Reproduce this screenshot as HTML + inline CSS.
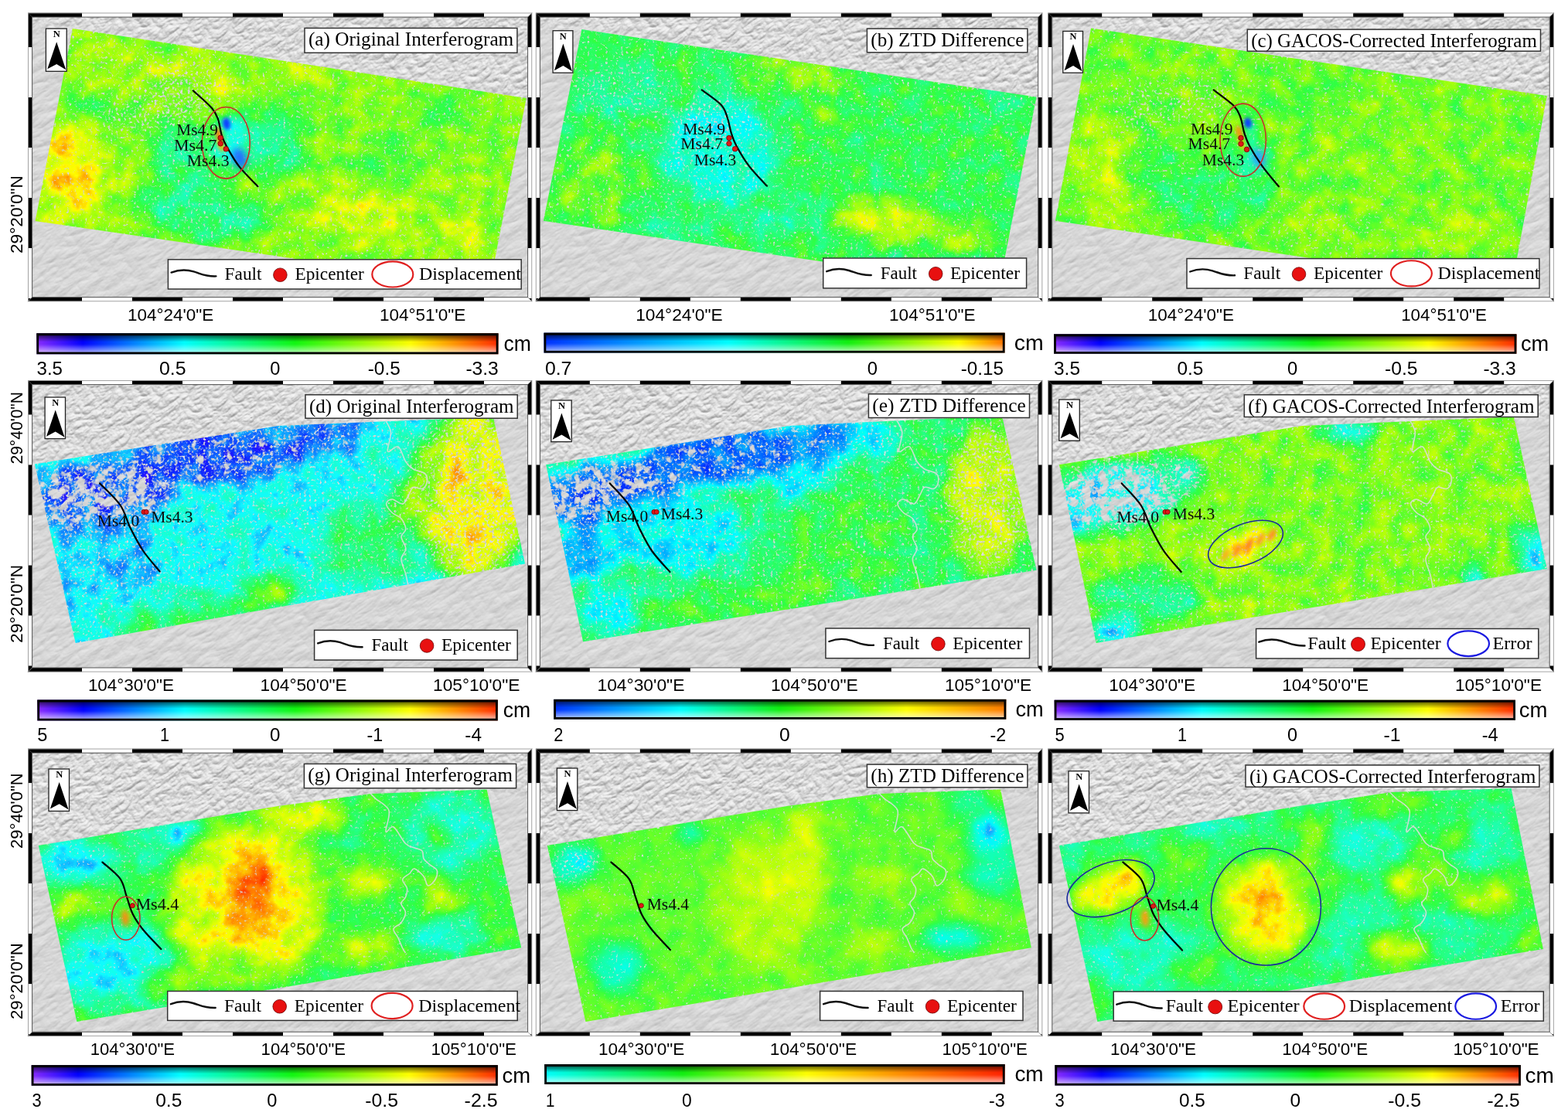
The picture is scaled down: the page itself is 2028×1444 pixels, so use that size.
<!DOCTYPE html>
<html><head><meta charset="utf-8"><title>InSAR interferograms</title><style>html,body{margin:0;padding:0;background:#fff;overflow:hidden;}svg{display:block;}</style></head><body>
<svg width="2028" height="1444" viewBox="0 0 2028 1444"><defs><filter id="hs" x="0" y="0" width="100%" height="100%" color-interpolation-filters="sRGB"><feTurbulence type="turbulence" baseFrequency="0.025 0.07" numOctaves="5" seed="3" result="n"/><feColorMatrix in="n" type="matrix" values="0 0 0 0 0 0 0 0 0 0 0 0 0 0 0 1 0 0 0 0" result="h"/><feDiffuseLighting in="h" surfaceScale="1.3" diffuseConstant="1" lighting-color="#ffffff" result="l"><feDistantLight azimuth="315" elevation="50"/></feDiffuseLighting><feComponentTransfer in="l"><feFuncR type="linear" slope="0.42" intercept="0.52"/><feFuncG type="linear" slope="0.42" intercept="0.52"/><feFuncB type="linear" slope="0.42" intercept="0.52"/></feComponentTransfer></filter><filter id="hsm" x="0" y="0" width="100%" height="100%" color-interpolation-filters="sRGB"><feTurbulence type="turbulence" baseFrequency="0.06 0.1" numOctaves="4" seed="5" result="n"/><feColorMatrix in="n" type="matrix" values="0 0 0 0 0 0 0 0 0 0 0 0 0 0 0 1 0 0 0 0" result="h"/><feDiffuseLighting in="h" surfaceScale="2.2" diffuseConstant="1" lighting-color="#ffffff" result="l"><feDistantLight azimuth="315" elevation="50"/></feDiffuseLighting><feComponentTransfer in="l"><feFuncR type="linear" slope="0.5" intercept="0.48"/><feFuncG type="linear" slope="0.5" intercept="0.48"/><feFuncB type="linear" slope="0.5" intercept="0.48"/></feComponentTransfer></filter><filter id="mblur" x="-20%" y="-20%" width="140%" height="140%"><feGaussianBlur stdDeviation="12"/></filter><linearGradient id="cbshade" x1="0" y1="0" x2="0" y2="1"><stop offset="0" stop-color="#000" stop-opacity="0.8"/><stop offset="0.2" stop-color="#000" stop-opacity="0.4"/><stop offset="0.42" stop-color="#000" stop-opacity="0"/><stop offset="0.55" stop-color="#fff" stop-opacity="0.05"/><stop offset="0.8" stop-color="#fff" stop-opacity="0.45"/><stop offset="1" stop-color="#fff" stop-opacity="0.8"/></linearGradient><clipPath id="fc_a_T"><polygon points="36,16.5 688.2,16.5 682.6,22.1 41.6,22.1"/></clipPath>
<clipPath id="fc_a_B"><polygon points="36,390.2 688.2,390.2 682.6,384.6 41.6,384.6"/></clipPath>
<clipPath id="fc_a_L"><polygon points="36,16.5 41.6,22.1 41.6,384.6 36,390.2"/></clipPath>
<clipPath id="fc_a_R"><polygon points="688.2,16.5 682.6,22.1 682.6,384.6 688.2,390.2"/></clipPath>
<clipPath id="mc_a"><rect x="41.6" y="22.1" width="641" height="362.5"/></clipPath>
<mask id="mk_a" maskUnits="userSpaceOnUse" x="1.6" y="-17.9" width="721" height="442.5"><polygon points="11.6,-7.9 712.6,-7.9 712.6,136.79 680.7,131.9 93.9,41.9 11.6,29.28" fill="#fff" filter="url(#mblur)"/></mask>
<filter id="df_a" x="-5%" y="-5%" width="110%" height="110%" color-interpolation-filters="sRGB"><feGaussianBlur in="SourceGraphic" stdDeviation="11" result="v"/><feTurbulence type="fractalNoise" baseFrequency="0.04" numOctaves="4" seed="11" result="t0"/><feColorMatrix in="t0" type="matrix" values="1 0 0 0 0 1 0 0 0 0 1 0 0 0 0 0 0 0 0 1" result="t"/><feComposite in="v" in2="t" operator="arithmetic" k1="0" k2="1" k3="0.28" k4="-0.14" result="vn"/><feColorMatrix in="vn" type="matrix" values="1 0 0 0 0 1 0 0 0 0 1 0 0 0 0 0 0 0 0 1" result="g"/><feComponentTransfer in="g" result="col"><feFuncR type="table" tableValues="0.541 0.399 0.256 0.114 0.063 0.063 0.063 0.063 0.063 0.063 0.063 0.076 0.090 0.105 0.120 0.136 0.154 0.172 0.196 0.294 0.392 0.490 0.590 0.694 0.799 0.904 1.000 1.000 1.000 1.000 1.000 1.000 1.000"/><feFuncG type="table" tableValues="0.169 0.137 0.106 0.074 0.152 0.290 0.429 0.568 0.707 0.846 0.984 1.000 1.000 1.000 1.000 1.000 1.000 1.000 1.000 1.000 1.000 1.000 1.000 1.000 1.000 1.000 0.989 0.852 0.714 0.577 0.439 0.302 0.165"/><feFuncB type="table" tableValues="1.000 1.000 1.000 1.000 1.000 1.000 1.000 1.000 1.000 1.000 1.000 0.923 0.836 0.749 0.662 0.563 0.456 0.349 0.247 0.198 0.149 0.100 0.059 0.044 0.029 0.014 0.000 0.000 0.000 0.000 0.000 0.000 0.000"/></feComponentTransfer><feTurbulence type="fractalNoise" baseFrequency="0.3" numOctaves="2" seed="111" result="s0"/><feColorMatrix in="s0" type="matrix" values="0 0 0 0 1 0 0 0 0 1 0 0 0 0 1 1 0 0 0 0" result="sn"/><feColorMatrix in="v" type="matrix" values="0 0 0 0 1 0 0 0 0 1 0 0 0 0 1 0 1 0 0 0" result="dn"/><feComposite in="sn" in2="dn" operator="arithmetic" k1="0" k2="1" k3="0.42" k4="-0.71" result="sd"/><feComponentTransfer in="sd" result="spk"><feFuncR type="linear" slope="0" intercept="0.88"/><feFuncG type="linear" slope="0" intercept="0.88"/><feFuncB type="linear" slope="0" intercept="0.88"/><feFuncA type="linear" slope="5" intercept="0"/></feComponentTransfer><feTurbulence type="fractalNoise" baseFrequency="0.09" numOctaves="3" seed="211" result="h0"/><feColorMatrix in="h0" type="matrix" values="0 0 0 0 1 0 0 0 0 1 0 0 0 0 1 1 0 0 0 0" result="hn"/><feColorMatrix in="v" type="matrix" values="0 0 0 0 1 0 0 0 0 1 0 0 0 0 1 0 0 1 0 0" result="hd"/><feComposite in="hn" in2="hd" operator="arithmetic" k1="0" k2="1" k3="0.5" k4="-0.8" result="hs2"/><feComponentTransfer in="hs2" result="hol"><feFuncA type="linear" slope="6" intercept="0"/></feComponentTransfer><feComposite in="spk" in2="hol" operator="over" result="allh"/><feComposite in="col" in2="allh" operator="out"/></filter>
<clipPath id="pc_a"><polygon points="93.9,36.9 680.7,126.9 633,371.3 45.6,286.1"/></clipPath>
<filter id="sb_2" x="-100%" y="-100%" width="300%" height="300%"><feGaussianBlur stdDeviation="2"/></filter>
<filter id="sb_4" x="-100%" y="-100%" width="300%" height="300%"><feGaussianBlur stdDeviation="4"/></filter>
<filter id="sb_2_5" x="-100%" y="-100%" width="300%" height="300%"><feGaussianBlur stdDeviation="2.5"/></filter>
<linearGradient id="cbg_a" x1="0" y1="0" x2="1" y2="0"><stop offset="0" stop-color="#8a2bff"/><stop offset="0.1" stop-color="#0000ff"/><stop offset="0.32" stop-color="#00ffff"/><stop offset="0.56" stop-color="#10f810"/><stop offset="0.81" stop-color="#ffff00"/><stop offset="1" stop-color="#ff2a00"/></linearGradient>
<clipPath id="fc_b_T"><polygon points="692.8,16.5 1348.3,16.5 1342.7,22.1 698.4,22.1"/></clipPath>
<clipPath id="fc_b_B"><polygon points="692.8,390.2 1348.3,390.2 1342.7,384.6 698.4,384.6"/></clipPath>
<clipPath id="fc_b_L"><polygon points="692.8,16.5 698.4,22.1 698.4,384.6 692.8,390.2"/></clipPath>
<clipPath id="fc_b_R"><polygon points="1348.3,16.5 1342.7,22.1 1342.7,384.6 1348.3,390.2"/></clipPath>
<clipPath id="mc_b"><rect x="698.4" y="22.1" width="644.3" height="362.5"/></clipPath>
<mask id="mk_b" maskUnits="userSpaceOnUse" x="658.4" y="-17.9" width="724.3" height="442.5"><polygon points="668.4,-7.9 1372.7,-7.9 1372.7,135.39 1340.5,130.6 752.4,43.1 668.4,30.6" fill="#fff" filter="url(#mblur)"/></mask>
<filter id="df_b" x="-5%" y="-5%" width="110%" height="110%" color-interpolation-filters="sRGB"><feGaussianBlur in="SourceGraphic" stdDeviation="11" result="v"/><feTurbulence type="fractalNoise" baseFrequency="0.04" numOctaves="4" seed="23" result="t0"/><feColorMatrix in="t0" type="matrix" values="1 0 0 0 0 1 0 0 0 0 1 0 0 0 0 0 0 0 0 1" result="t"/><feComposite in="v" in2="t" operator="arithmetic" k1="0" k2="1" k3="0.28" k4="-0.14" result="vn"/><feColorMatrix in="vn" type="matrix" values="1 0 0 0 0 1 0 0 0 0 1 0 0 0 0 0 0 0 0 1" result="g"/><feComponentTransfer in="g" result="col"><feFuncR type="table" tableValues="0.000 0.000 0.000 0.000 0.000 0.000 0.000 0.000 0.000 0.000 0.000 0.000 0.000 0.006 0.036 0.066 0.097 0.126 0.141 0.156 0.171 0.186 0.289 0.403 0.518 0.631 0.728 0.825 0.922 1.000 1.000 1.000 1.000"/><feFuncG type="table" tableValues="0.188 0.252 0.315 0.378 0.442 0.505 0.569 0.632 0.696 0.759 0.822 0.886 0.949 1.000 1.000 1.000 1.000 1.000 1.000 1.000 1.000 1.000 1.000 1.000 1.000 1.000 1.000 1.000 1.000 0.965 0.790 0.614 0.439"/><feFuncB type="table" tableValues="1.000 1.000 1.000 1.000 1.000 1.000 1.000 1.000 1.000 1.000 1.000 1.000 1.000 0.982 0.893 0.803 0.713 0.624 0.533 0.443 0.352 0.262 0.208 0.159 0.110 0.062 0.046 0.029 0.013 0.000 0.000 0.000 0.000"/></feComponentTransfer><feTurbulence type="fractalNoise" baseFrequency="0.3" numOctaves="2" seed="123" result="s0"/><feColorMatrix in="s0" type="matrix" values="0 0 0 0 1 0 0 0 0 1 0 0 0 0 1 1 0 0 0 0" result="sn"/><feColorMatrix in="v" type="matrix" values="0 0 0 0 1 0 0 0 0 1 0 0 0 0 1 0 1 0 0 0" result="dn"/><feComposite in="sn" in2="dn" operator="arithmetic" k1="0" k2="1" k3="0.42" k4="-0.71" result="sd"/><feComponentTransfer in="sd" result="spk"><feFuncR type="linear" slope="0" intercept="0.88"/><feFuncG type="linear" slope="0" intercept="0.88"/><feFuncB type="linear" slope="0" intercept="0.88"/><feFuncA type="linear" slope="5" intercept="0"/></feComponentTransfer><feTurbulence type="fractalNoise" baseFrequency="0.09" numOctaves="3" seed="223" result="h0"/><feColorMatrix in="h0" type="matrix" values="0 0 0 0 1 0 0 0 0 1 0 0 0 0 1 1 0 0 0 0" result="hn"/><feColorMatrix in="v" type="matrix" values="0 0 0 0 1 0 0 0 0 1 0 0 0 0 1 0 0 1 0 0" result="hd"/><feComposite in="hn" in2="hd" operator="arithmetic" k1="0" k2="1" k3="0.5" k4="-0.8" result="hs2"/><feComponentTransfer in="hs2" result="hol"><feFuncA type="linear" slope="6" intercept="0"/></feComponentTransfer><feComposite in="spk" in2="hol" operator="over" result="allh"/><feComposite in="col" in2="allh" operator="out"/></filter>
<clipPath id="pc_b"><polygon points="752.4,38.1 1340.5,125.6 1292,372 702.9,285.8"/></clipPath>
<linearGradient id="cbg_b" x1="0" y1="0" x2="1" y2="0"><stop offset="0" stop-color="#0030ff"/><stop offset="0.4" stop-color="#00ffff"/><stop offset="0.66" stop-color="#10f010"/><stop offset="0.9" stop-color="#ffff00"/><stop offset="1" stop-color="#ff7000"/></linearGradient>
<clipPath id="fc_c_T"><polygon points="1355.2,16.5 2009.8,16.5 2004.2,22.1 1360.8,22.1"/></clipPath>
<clipPath id="fc_c_B"><polygon points="1355.2,390.2 2009.8,390.2 2004.2,384.6 1360.8,384.6"/></clipPath>
<clipPath id="fc_c_L"><polygon points="1355.2,16.5 1360.8,22.1 1360.8,384.6 1355.2,390.2"/></clipPath>
<clipPath id="fc_c_R"><polygon points="2009.8,16.5 2004.2,22.1 2004.2,384.6 2009.8,390.2"/></clipPath>
<clipPath id="mc_c"><rect x="1360.8" y="22.1" width="643.4" height="362.5"/></clipPath>
<mask id="mk_c" maskUnits="userSpaceOnUse" x="1320.8" y="-17.9" width="723.4" height="442.5"><polygon points="1330.8,-7.9 2034.2,-7.9 2034.2,133.96 2000.8,129 1411.1,41.4 1330.8,29.47" fill="#fff" filter="url(#mblur)"/></mask>
<filter id="df_c" x="-5%" y="-5%" width="110%" height="110%" color-interpolation-filters="sRGB"><feGaussianBlur in="SourceGraphic" stdDeviation="11" result="v"/><feTurbulence type="fractalNoise" baseFrequency="0.04" numOctaves="4" seed="37" result="t0"/><feColorMatrix in="t0" type="matrix" values="1 0 0 0 0 1 0 0 0 0 1 0 0 0 0 0 0 0 0 1" result="t"/><feComposite in="v" in2="t" operator="arithmetic" k1="0" k2="1" k3="0.28" k4="-0.14" result="vn"/><feColorMatrix in="vn" type="matrix" values="1 0 0 0 0 1 0 0 0 0 1 0 0 0 0 0 0 0 0 1" result="g"/><feComponentTransfer in="g" result="col"><feFuncR type="table" tableValues="0.541 0.399 0.256 0.114 0.063 0.063 0.063 0.063 0.063 0.063 0.063 0.076 0.090 0.105 0.120 0.136 0.154 0.172 0.196 0.294 0.392 0.490 0.590 0.694 0.799 0.904 1.000 1.000 1.000 1.000 1.000 1.000 1.000"/><feFuncG type="table" tableValues="0.169 0.137 0.106 0.074 0.152 0.290 0.429 0.568 0.707 0.846 0.984 1.000 1.000 1.000 1.000 1.000 1.000 1.000 1.000 1.000 1.000 1.000 1.000 1.000 1.000 1.000 0.989 0.852 0.714 0.577 0.439 0.302 0.165"/><feFuncB type="table" tableValues="1.000 1.000 1.000 1.000 1.000 1.000 1.000 1.000 1.000 1.000 1.000 0.923 0.836 0.749 0.662 0.563 0.456 0.349 0.247 0.198 0.149 0.100 0.059 0.044 0.029 0.014 0.000 0.000 0.000 0.000 0.000 0.000 0.000"/></feComponentTransfer><feTurbulence type="fractalNoise" baseFrequency="0.3" numOctaves="2" seed="137" result="s0"/><feColorMatrix in="s0" type="matrix" values="0 0 0 0 1 0 0 0 0 1 0 0 0 0 1 1 0 0 0 0" result="sn"/><feColorMatrix in="v" type="matrix" values="0 0 0 0 1 0 0 0 0 1 0 0 0 0 1 0 1 0 0 0" result="dn"/><feComposite in="sn" in2="dn" operator="arithmetic" k1="0" k2="1" k3="0.42" k4="-0.71" result="sd"/><feComponentTransfer in="sd" result="spk"><feFuncR type="linear" slope="0" intercept="0.88"/><feFuncG type="linear" slope="0" intercept="0.88"/><feFuncB type="linear" slope="0" intercept="0.88"/><feFuncA type="linear" slope="5" intercept="0"/></feComponentTransfer><feTurbulence type="fractalNoise" baseFrequency="0.09" numOctaves="3" seed="237" result="h0"/><feColorMatrix in="h0" type="matrix" values="0 0 0 0 1 0 0 0 0 1 0 0 0 0 1 1 0 0 0 0" result="hn"/><feColorMatrix in="v" type="matrix" values="0 0 0 0 1 0 0 0 0 1 0 0 0 0 1 0 0 1 0 0" result="hd"/><feComposite in="hn" in2="hd" operator="arithmetic" k1="0" k2="1" k3="0.5" k4="-0.8" result="hs2"/><feComponentTransfer in="hs2" result="hol"><feFuncA type="linear" slope="6" intercept="0"/></feComponentTransfer><feComposite in="spk" in2="hol" operator="over" result="allh"/><feComposite in="col" in2="allh" operator="out"/></filter>
<clipPath id="pc_c"><polygon points="1411.1,36.4 2000.8,124 1955,372 1364.9,285.8"/></clipPath>
<linearGradient id="cbg_c" x1="0" y1="0" x2="1" y2="0"><stop offset="0" stop-color="#8a2bff"/><stop offset="0.1" stop-color="#0000ff"/><stop offset="0.32" stop-color="#00ffff"/><stop offset="0.56" stop-color="#10f810"/><stop offset="0.81" stop-color="#ffff00"/><stop offset="1" stop-color="#ff2a00"/></linearGradient>
<clipPath id="fc_d_T"><polygon points="36,492 688.2,492 682.6,497.6 41.6,497.6"/></clipPath>
<clipPath id="fc_d_B"><polygon points="36,869.6 688.2,869.6 682.6,864 41.6,864"/></clipPath>
<clipPath id="fc_d_L"><polygon points="36,492 41.6,497.6 41.6,864 36,869.6"/></clipPath>
<clipPath id="fc_d_R"><polygon points="688.2,492 682.6,497.6 682.6,864 688.2,869.6"/></clipPath>
<clipPath id="mc_d"><rect x="41.6" y="497.6" width="641" height="366.4"/></clipPath>
<mask id="mk_d" maskUnits="userSpaceOnUse" x="1.6" y="457.6" width="721" height="446.4"><polygon points="11.6,467.6 712.6,467.6 712.6,541.41 637.9,544.5 360,556 44.9,605.6 11.6,610.84" fill="#fff" filter="url(#mblur)"/></mask>
<filter id="df_d" x="-5%" y="-5%" width="110%" height="110%" color-interpolation-filters="sRGB"><feGaussianBlur in="SourceGraphic" stdDeviation="11" result="v"/><feTurbulence type="fractalNoise" baseFrequency="0.04" numOctaves="4" seed="41" result="t0"/><feColorMatrix in="t0" type="matrix" values="1 0 0 0 0 1 0 0 0 0 1 0 0 0 0 0 0 0 0 1" result="t"/><feComposite in="v" in2="t" operator="arithmetic" k1="0" k2="1" k3="0.28" k4="-0.14" result="vn"/><feColorMatrix in="vn" type="matrix" values="1 0 0 0 0 1 0 0 0 0 1 0 0 0 0 0 0 0 0 1" result="g"/><feComponentTransfer in="g" result="col"><feFuncR type="table" tableValues="0.541 0.399 0.256 0.114 0.063 0.063 0.063 0.063 0.063 0.063 0.063 0.076 0.090 0.105 0.120 0.136 0.154 0.172 0.196 0.294 0.392 0.490 0.590 0.694 0.799 0.904 1.000 1.000 1.000 1.000 1.000 1.000 1.000"/><feFuncG type="table" tableValues="0.169 0.137 0.106 0.074 0.152 0.290 0.429 0.568 0.707 0.846 0.984 1.000 1.000 1.000 1.000 1.000 1.000 1.000 1.000 1.000 1.000 1.000 1.000 1.000 1.000 1.000 0.989 0.852 0.714 0.577 0.439 0.302 0.165"/><feFuncB type="table" tableValues="1.000 1.000 1.000 1.000 1.000 1.000 1.000 1.000 1.000 1.000 1.000 0.923 0.836 0.749 0.662 0.563 0.456 0.349 0.247 0.198 0.149 0.100 0.059 0.044 0.029 0.014 0.000 0.000 0.000 0.000 0.000 0.000 0.000"/></feComponentTransfer><feTurbulence type="fractalNoise" baseFrequency="0.3" numOctaves="2" seed="141" result="s0"/><feColorMatrix in="s0" type="matrix" values="0 0 0 0 1 0 0 0 0 1 0 0 0 0 1 1 0 0 0 0" result="sn"/><feColorMatrix in="v" type="matrix" values="0 0 0 0 1 0 0 0 0 1 0 0 0 0 1 0 1 0 0 0" result="dn"/><feComposite in="sn" in2="dn" operator="arithmetic" k1="0" k2="1" k3="0.42" k4="-0.71" result="sd"/><feComponentTransfer in="sd" result="spk"><feFuncR type="linear" slope="0" intercept="0.88"/><feFuncG type="linear" slope="0" intercept="0.88"/><feFuncB type="linear" slope="0" intercept="0.88"/><feFuncA type="linear" slope="5" intercept="0"/></feComponentTransfer><feTurbulence type="fractalNoise" baseFrequency="0.09" numOctaves="3" seed="241" result="h0"/><feColorMatrix in="h0" type="matrix" values="0 0 0 0 1 0 0 0 0 1 0 0 0 0 1 1 0 0 0 0" result="hn"/><feColorMatrix in="v" type="matrix" values="0 0 0 0 1 0 0 0 0 1 0 0 0 0 1 0 0 1 0 0" result="hd"/><feComposite in="hn" in2="hd" operator="arithmetic" k1="0" k2="1" k3="0.5" k4="-0.8" result="hs2"/><feComponentTransfer in="hs2" result="hol"><feFuncA type="linear" slope="6" intercept="0"/></feComponentTransfer><feComposite in="spk" in2="hol" operator="over" result="allh"/><feComposite in="col" in2="allh" operator="out"/></filter>
<clipPath id="pc_d"><polygon points="44.9,600.6 360,551 637.9,539.5 679.1,729.5 97.7,831.9"/></clipPath>
<linearGradient id="cbg_d" x1="0" y1="0" x2="1" y2="0"><stop offset="0" stop-color="#8a2bff"/><stop offset="0.1" stop-color="#0000ff"/><stop offset="0.32" stop-color="#00ffff"/><stop offset="0.56" stop-color="#10f810"/><stop offset="0.81" stop-color="#ffff00"/><stop offset="1" stop-color="#ff2a00"/></linearGradient>
<clipPath id="fc_e_T"><polygon points="692.8,492 1348.3,492 1342.7,497.6 698.4,497.6"/></clipPath>
<clipPath id="fc_e_B"><polygon points="692.8,869.6 1348.3,869.6 1342.7,864 698.4,864"/></clipPath>
<clipPath id="fc_e_L"><polygon points="692.8,492 698.4,497.6 698.4,864 692.8,869.6"/></clipPath>
<clipPath id="fc_e_R"><polygon points="1348.3,492 1342.7,497.6 1342.7,864 1348.3,869.6"/></clipPath>
<clipPath id="mc_e"><rect x="698.4" y="497.6" width="644.3" height="366.4"/></clipPath>
<mask id="mk_e" maskUnits="userSpaceOnUse" x="658.4" y="457.6" width="724.3" height="446.4"><polygon points="668.4,467.6 1372.7,467.6 1372.7,539.24 1295.9,542.9 1021,556 706.2,606.3 668.4,612.34" fill="#fff" filter="url(#mblur)"/></mask>
<filter id="df_e" x="-5%" y="-5%" width="110%" height="110%" color-interpolation-filters="sRGB"><feGaussianBlur in="SourceGraphic" stdDeviation="11" result="v"/><feTurbulence type="fractalNoise" baseFrequency="0.04" numOctaves="4" seed="53" result="t0"/><feColorMatrix in="t0" type="matrix" values="1 0 0 0 0 1 0 0 0 0 1 0 0 0 0 0 0 0 0 1" result="t"/><feComposite in="v" in2="t" operator="arithmetic" k1="0" k2="1" k3="0.28" k4="-0.14" result="vn"/><feColorMatrix in="vn" type="matrix" values="1 0 0 0 0 1 0 0 0 0 1 0 0 0 0 0 0 0 0 1" result="g"/><feComponentTransfer in="g" result="col"><feFuncR type="table" tableValues="0.000 0.000 0.000 0.000 0.000 0.000 0.000 0.000 0.000 0.001 0.037 0.073 0.108 0.135 0.153 0.170 0.188 0.286 0.384 0.482 0.580 0.671 0.754 0.837 0.920 1.000 1.000 1.000 1.000 1.000 1.000 1.000 1.000"/><feFuncG type="table" tableValues="0.188 0.279 0.369 0.460 0.551 0.641 0.732 0.822 0.913 1.000 1.000 1.000 1.000 1.000 1.000 1.000 1.000 1.000 1.000 1.000 1.000 1.000 1.000 1.000 1.000 0.997 0.923 0.849 0.775 0.701 0.627 0.553 0.478"/><feFuncB type="table" tableValues="1.000 1.000 1.000 1.000 1.000 1.000 1.000 1.000 1.000 0.996 0.890 0.784 0.678 0.572 0.465 0.358 0.251 0.209 0.167 0.125 0.083 0.055 0.041 0.027 0.013 0.000 0.000 0.000 0.000 0.000 0.000 0.000 0.000"/></feComponentTransfer><feTurbulence type="fractalNoise" baseFrequency="0.3" numOctaves="2" seed="153" result="s0"/><feColorMatrix in="s0" type="matrix" values="0 0 0 0 1 0 0 0 0 1 0 0 0 0 1 1 0 0 0 0" result="sn"/><feColorMatrix in="v" type="matrix" values="0 0 0 0 1 0 0 0 0 1 0 0 0 0 1 0 1 0 0 0" result="dn"/><feComposite in="sn" in2="dn" operator="arithmetic" k1="0" k2="1" k3="0.42" k4="-0.71" result="sd"/><feComponentTransfer in="sd" result="spk"><feFuncR type="linear" slope="0" intercept="0.88"/><feFuncG type="linear" slope="0" intercept="0.88"/><feFuncB type="linear" slope="0" intercept="0.88"/><feFuncA type="linear" slope="5" intercept="0"/></feComponentTransfer><feTurbulence type="fractalNoise" baseFrequency="0.09" numOctaves="3" seed="253" result="h0"/><feColorMatrix in="h0" type="matrix" values="0 0 0 0 1 0 0 0 0 1 0 0 0 0 1 1 0 0 0 0" result="hn"/><feColorMatrix in="v" type="matrix" values="0 0 0 0 1 0 0 0 0 1 0 0 0 0 1 0 0 1 0 0" result="hd"/><feComposite in="hn" in2="hd" operator="arithmetic" k1="0" k2="1" k3="0.5" k4="-0.8" result="hs2"/><feComponentTransfer in="hs2" result="hol"><feFuncA type="linear" slope="6" intercept="0"/></feComponentTransfer><feComposite in="spk" in2="hol" operator="over" result="allh"/><feComposite in="col" in2="allh" operator="out"/></filter>
<clipPath id="pc_e"><polygon points="706.2,601.3 1021,551 1295.9,537.9 1340.5,737.7 754.1,830.2"/></clipPath>
<linearGradient id="cbg_e" x1="0" y1="0" x2="1" y2="0"><stop offset="0" stop-color="#0030ff"/><stop offset="0.28" stop-color="#00ffff"/><stop offset="0.5" stop-color="#10f010"/><stop offset="0.78" stop-color="#ffff00"/><stop offset="1" stop-color="#ff7a00"/></linearGradient>
<clipPath id="fc_f_T"><polygon points="1355.2,492 2009.8,492 2004.2,497.6 1360.8,497.6"/></clipPath>
<clipPath id="fc_f_B"><polygon points="1355.2,869.6 2009.8,869.6 2004.2,864 1360.8,864"/></clipPath>
<clipPath id="fc_f_L"><polygon points="1355.2,492 1360.8,497.6 1360.8,864 1355.2,869.6"/></clipPath>
<clipPath id="fc_f_R"><polygon points="2009.8,492 2004.2,497.6 2004.2,864 2009.8,869.6"/></clipPath>
<clipPath id="mc_f"><rect x="1360.8" y="497.6" width="643.4" height="366.4"/></clipPath>
<mask id="mk_f" maskUnits="userSpaceOnUse" x="1320.8" y="457.6" width="723.4" height="446.4"><polygon points="1330.8,467.6 2034.2,467.6 2034.2,541.3 1957.9,544.5 1684,556 1369.8,606.3 1330.8,612.54" fill="#fff" filter="url(#mblur)"/></mask>
<filter id="df_f" x="-5%" y="-5%" width="110%" height="110%" color-interpolation-filters="sRGB"><feGaussianBlur in="SourceGraphic" stdDeviation="11" result="v"/><feTurbulence type="fractalNoise" baseFrequency="0.04" numOctaves="4" seed="67" result="t0"/><feColorMatrix in="t0" type="matrix" values="1 0 0 0 0 1 0 0 0 0 1 0 0 0 0 0 0 0 0 1" result="t"/><feComposite in="v" in2="t" operator="arithmetic" k1="0" k2="1" k3="0.28" k4="-0.14" result="vn"/><feColorMatrix in="vn" type="matrix" values="1 0 0 0 0 1 0 0 0 0 1 0 0 0 0 0 0 0 0 1" result="g"/><feComponentTransfer in="g" result="col"><feFuncR type="table" tableValues="0.541 0.399 0.256 0.114 0.063 0.063 0.063 0.063 0.063 0.063 0.063 0.076 0.090 0.105 0.120 0.136 0.154 0.172 0.196 0.294 0.392 0.490 0.590 0.694 0.799 0.904 1.000 1.000 1.000 1.000 1.000 1.000 1.000"/><feFuncG type="table" tableValues="0.169 0.137 0.106 0.074 0.152 0.290 0.429 0.568 0.707 0.846 0.984 1.000 1.000 1.000 1.000 1.000 1.000 1.000 1.000 1.000 1.000 1.000 1.000 1.000 1.000 1.000 0.989 0.852 0.714 0.577 0.439 0.302 0.165"/><feFuncB type="table" tableValues="1.000 1.000 1.000 1.000 1.000 1.000 1.000 1.000 1.000 1.000 1.000 0.923 0.836 0.749 0.662 0.563 0.456 0.349 0.247 0.198 0.149 0.100 0.059 0.044 0.029 0.014 0.000 0.000 0.000 0.000 0.000 0.000 0.000"/></feComponentTransfer><feTurbulence type="fractalNoise" baseFrequency="0.3" numOctaves="2" seed="167" result="s0"/><feColorMatrix in="s0" type="matrix" values="0 0 0 0 1 0 0 0 0 1 0 0 0 0 1 1 0 0 0 0" result="sn"/><feColorMatrix in="v" type="matrix" values="0 0 0 0 1 0 0 0 0 1 0 0 0 0 1 0 1 0 0 0" result="dn"/><feComposite in="sn" in2="dn" operator="arithmetic" k1="0" k2="1" k3="0.42" k4="-0.71" result="sd"/><feComponentTransfer in="sd" result="spk"><feFuncR type="linear" slope="0" intercept="0.88"/><feFuncG type="linear" slope="0" intercept="0.88"/><feFuncB type="linear" slope="0" intercept="0.88"/><feFuncA type="linear" slope="5" intercept="0"/></feComponentTransfer><feTurbulence type="fractalNoise" baseFrequency="0.09" numOctaves="3" seed="267" result="h0"/><feColorMatrix in="h0" type="matrix" values="0 0 0 0 1 0 0 0 0 1 0 0 0 0 1 1 0 0 0 0" result="hn"/><feColorMatrix in="v" type="matrix" values="0 0 0 0 1 0 0 0 0 1 0 0 0 0 1 0 0 1 0 0" result="hd"/><feComposite in="hn" in2="hd" operator="arithmetic" k1="0" k2="1" k3="0.5" k4="-0.8" result="hs2"/><feComponentTransfer in="hs2" result="hol"><feFuncA type="linear" slope="6" intercept="0"/></feComponentTransfer><feComposite in="spk" in2="hol" operator="over" result="allh"/><feComposite in="col" in2="allh" operator="out"/></filter>
<clipPath id="pc_f"><polygon points="1369.8,601.3 1684,551 1957.9,539.5 2000.8,736.1 1417.7,831.9"/></clipPath>
<linearGradient id="cbg_f" x1="0" y1="0" x2="1" y2="0"><stop offset="0" stop-color="#8a2bff"/><stop offset="0.1" stop-color="#0000ff"/><stop offset="0.32" stop-color="#00ffff"/><stop offset="0.56" stop-color="#10f810"/><stop offset="0.81" stop-color="#ffff00"/><stop offset="1" stop-color="#ff2a00"/></linearGradient>
<clipPath id="fc_g_T"><polygon points="36,968.6 688.2,968.6 682.6,974.2 41.6,974.2"/></clipPath>
<clipPath id="fc_g_B"><polygon points="36,1340.8 688.2,1340.8 682.6,1335.2 41.6,1335.2"/></clipPath>
<clipPath id="fc_g_L"><polygon points="36,968.6 41.6,974.2 41.6,1335.2 36,1340.8"/></clipPath>
<clipPath id="fc_g_R"><polygon points="688.2,968.6 682.6,974.2 682.6,1335.2 688.2,1340.8"/></clipPath>
<clipPath id="mc_g"><rect x="41.6" y="974.2" width="641" height="361"/></clipPath>
<mask id="mk_g" maskUnits="userSpaceOnUse" x="1.6" y="934.2" width="721" height="441"><polygon points="11.6,944.2 712.6,944.2 712.6,1023.45 629.6,1026.5 480,1032 360,1048 49.8,1099.1 11.6,1105.39" fill="#fff" filter="url(#mblur)"/></mask>
<filter id="df_g" x="-5%" y="-5%" width="110%" height="110%" color-interpolation-filters="sRGB"><feGaussianBlur in="SourceGraphic" stdDeviation="11" result="v"/><feTurbulence type="fractalNoise" baseFrequency="0.04" numOctaves="4" seed="71" result="t0"/><feColorMatrix in="t0" type="matrix" values="1 0 0 0 0 1 0 0 0 0 1 0 0 0 0 0 0 0 0 1" result="t"/><feComposite in="v" in2="t" operator="arithmetic" k1="0" k2="1" k3="0.24" k4="-0.12" result="vn"/><feColorMatrix in="vn" type="matrix" values="1 0 0 0 0 1 0 0 0 0 1 0 0 0 0 0 0 0 0 1" result="g"/><feComponentTransfer in="g" result="col"><feFuncR type="table" tableValues="0.541 0.399 0.256 0.114 0.063 0.063 0.063 0.063 0.063 0.063 0.063 0.076 0.090 0.105 0.120 0.136 0.154 0.172 0.196 0.294 0.392 0.490 0.590 0.694 0.799 0.904 1.000 1.000 1.000 1.000 1.000 1.000 1.000"/><feFuncG type="table" tableValues="0.169 0.137 0.106 0.074 0.152 0.290 0.429 0.568 0.707 0.846 0.984 1.000 1.000 1.000 1.000 1.000 1.000 1.000 1.000 1.000 1.000 1.000 1.000 1.000 1.000 1.000 0.989 0.852 0.714 0.577 0.439 0.302 0.165"/><feFuncB type="table" tableValues="1.000 1.000 1.000 1.000 1.000 1.000 1.000 1.000 1.000 1.000 1.000 0.923 0.836 0.749 0.662 0.563 0.456 0.349 0.247 0.198 0.149 0.100 0.059 0.044 0.029 0.014 0.000 0.000 0.000 0.000 0.000 0.000 0.000"/></feComponentTransfer><feTurbulence type="fractalNoise" baseFrequency="0.3" numOctaves="2" seed="171" result="s0"/><feColorMatrix in="s0" type="matrix" values="0 0 0 0 1 0 0 0 0 1 0 0 0 0 1 1 0 0 0 0" result="sn"/><feColorMatrix in="v" type="matrix" values="0 0 0 0 1 0 0 0 0 1 0 0 0 0 1 0 1 0 0 0" result="dn"/><feComposite in="sn" in2="dn" operator="arithmetic" k1="0" k2="1" k3="0.42" k4="-0.71" result="sd"/><feComponentTransfer in="sd" result="spk"><feFuncR type="linear" slope="0" intercept="0.88"/><feFuncG type="linear" slope="0" intercept="0.88"/><feFuncB type="linear" slope="0" intercept="0.88"/><feFuncA type="linear" slope="5" intercept="0"/></feComponentTransfer><feTurbulence type="fractalNoise" baseFrequency="0.09" numOctaves="3" seed="271" result="h0"/><feColorMatrix in="h0" type="matrix" values="0 0 0 0 1 0 0 0 0 1 0 0 0 0 1 1 0 0 0 0" result="hn"/><feColorMatrix in="v" type="matrix" values="0 0 0 0 1 0 0 0 0 1 0 0 0 0 1 0 0 1 0 0" result="hd"/><feComposite in="hn" in2="hd" operator="arithmetic" k1="0" k2="1" k3="0.5" k4="-0.8" result="hs2"/><feComponentTransfer in="hs2" result="hol"><feFuncA type="linear" slope="6" intercept="0"/></feComponentTransfer><feComposite in="spk" in2="hol" operator="over" result="allh"/><feComposite in="col" in2="allh" operator="out"/></filter>
<clipPath id="pc_g"><polygon points="49.8,1094.1 360,1043 480,1027 629.6,1021.5 674.2,1226.3 99.4,1322.1"/></clipPath>
<filter id="sb_3" x="-100%" y="-100%" width="300%" height="300%"><feGaussianBlur stdDeviation="3"/></filter>
<linearGradient id="cbg_g" x1="0" y1="0" x2="1" y2="0"><stop offset="0" stop-color="#8a2bff"/><stop offset="0.1" stop-color="#0000ff"/><stop offset="0.32" stop-color="#00ffff"/><stop offset="0.56" stop-color="#10f810"/><stop offset="0.81" stop-color="#ffff00"/><stop offset="1" stop-color="#ff2a00"/></linearGradient>
<clipPath id="fc_h_T"><polygon points="692.8,968.6 1348.3,968.6 1342.7,974.2 698.4,974.2"/></clipPath>
<clipPath id="fc_h_B"><polygon points="692.8,1340.8 1348.3,1340.8 1342.7,1335.2 698.4,1335.2"/></clipPath>
<clipPath id="fc_h_L"><polygon points="692.8,968.6 698.4,974.2 698.4,1335.2 692.8,1340.8"/></clipPath>
<clipPath id="fc_h_R"><polygon points="1348.3,968.6 1342.7,974.2 1342.7,1335.2 1348.3,1340.8"/></clipPath>
<clipPath id="mc_h"><rect x="698.4" y="974.2" width="644.3" height="361"/></clipPath>
<mask id="mk_h" maskUnits="userSpaceOnUse" x="658.4" y="934.2" width="724.3" height="441"><polygon points="668.4,944.2 1372.7,944.2 1372.7,1023.74 1294.2,1026.5 1138,1032 1018,1048 707.8,1099.1 668.4,1105.59" fill="#fff" filter="url(#mblur)"/></mask>
<filter id="df_h" x="-5%" y="-5%" width="110%" height="110%" color-interpolation-filters="sRGB"><feGaussianBlur in="SourceGraphic" stdDeviation="11" result="v"/><feTurbulence type="fractalNoise" baseFrequency="0.04" numOctaves="4" seed="83" result="t0"/><feColorMatrix in="t0" type="matrix" values="1 0 0 0 0 1 0 0 0 0 1 0 0 0 0 0 0 0 0 1" result="t"/><feComposite in="v" in2="t" operator="arithmetic" k1="0" k2="1" k3="0.13" k4="-0.07" result="vn"/><feColorMatrix in="vn" type="matrix" values="1 0 0 0 0 1 0 0 0 0 1 0 0 0 0 0 0 0 0 1" result="g"/><feComponentTransfer in="g" result="col"><feFuncR type="table" tableValues="0.188 0.129 0.071 0.012 0.020 0.046 0.072 0.097 0.123 0.148 0.174 0.239 0.353 0.467 0.582 0.686 0.783 0.880 0.977 1.000 1.000 1.000 1.000 1.000 1.000 1.000 1.000 1.000 1.000 1.000 1.000 1.000 1.000"/><feFuncG type="table" tableValues="0.314 0.528 0.743 0.957 1.000 1.000 1.000 1.000 1.000 1.000 1.000 1.000 1.000 1.000 1.000 1.000 1.000 1.000 1.000 0.948 0.880 0.812 0.744 0.676 0.608 0.543 0.484 0.424 0.364 0.305 0.245 0.185 0.125"/><feFuncB type="table" tableValues="1.000 1.000 1.000 1.000 0.919 0.817 0.715 0.613 0.512 0.410 0.308 0.229 0.180 0.131 0.082 0.053 0.037 0.020 0.004 0.000 0.000 0.000 0.000 0.000 0.000 0.000 0.000 0.000 0.000 0.000 0.000 0.000 0.000"/></feComponentTransfer><feTurbulence type="fractalNoise" baseFrequency="0.3" numOctaves="2" seed="183" result="s0"/><feColorMatrix in="s0" type="matrix" values="0 0 0 0 1 0 0 0 0 1 0 0 0 0 1 1 0 0 0 0" result="sn"/><feColorMatrix in="v" type="matrix" values="0 0 0 0 1 0 0 0 0 1 0 0 0 0 1 0 1 0 0 0" result="dn"/><feComposite in="sn" in2="dn" operator="arithmetic" k1="0" k2="1" k3="0.42" k4="-0.71" result="sd"/><feComponentTransfer in="sd" result="spk"><feFuncR type="linear" slope="0" intercept="0.88"/><feFuncG type="linear" slope="0" intercept="0.88"/><feFuncB type="linear" slope="0" intercept="0.88"/><feFuncA type="linear" slope="5" intercept="0"/></feComponentTransfer><feTurbulence type="fractalNoise" baseFrequency="0.09" numOctaves="3" seed="283" result="h0"/><feColorMatrix in="h0" type="matrix" values="0 0 0 0 1 0 0 0 0 1 0 0 0 0 1 1 0 0 0 0" result="hn"/><feColorMatrix in="v" type="matrix" values="0 0 0 0 1 0 0 0 0 1 0 0 0 0 1 0 0 1 0 0" result="hd"/><feComposite in="hn" in2="hd" operator="arithmetic" k1="0" k2="1" k3="0.5" k4="-0.8" result="hs2"/><feComponentTransfer in="hs2" result="hol"><feFuncA type="linear" slope="6" intercept="0"/></feComponentTransfer><feComposite in="spk" in2="hol" operator="over" result="allh"/><feComposite in="col" in2="allh" operator="out"/></filter>
<clipPath id="pc_h"><polygon points="707.8,1094.1 1018,1043 1138,1027 1294.2,1021.5 1333.9,1226.3 757.4,1322.1"/></clipPath>
<linearGradient id="cbg_h" x1="0" y1="0" x2="1" y2="0"><stop offset="0" stop-color="#00ffff"/><stop offset="0.3" stop-color="#10f010"/><stop offset="0.57" stop-color="#ffff00"/><stop offset="0.77" stop-color="#ff9000"/><stop offset="1" stop-color="#ff2000"/></linearGradient>
<clipPath id="fc_i_T"><polygon points="1355.2,968.6 2009.8,968.6 2004.2,974.2 1360.8,974.2"/></clipPath>
<clipPath id="fc_i_B"><polygon points="1355.2,1340.8 2009.8,1340.8 2004.2,1335.2 1360.8,1335.2"/></clipPath>
<clipPath id="fc_i_L"><polygon points="1355.2,968.6 1360.8,974.2 1360.8,1335.2 1355.2,1340.8"/></clipPath>
<clipPath id="fc_i_R"><polygon points="2009.8,968.6 2004.2,974.2 2004.2,1335.2 2009.8,1340.8"/></clipPath>
<clipPath id="mc_i"><rect x="1360.8" y="974.2" width="643.4" height="361"/></clipPath>
<mask id="mk_i" maskUnits="userSpaceOnUse" x="1320.8" y="934.2" width="723.4" height="441"><polygon points="1330.8,944.2 2034.2,944.2 2034.2,1022.43 1954.6,1025 1800,1030 1680,1048 1369.8,1099.1 1330.8,1105.52" fill="#fff" filter="url(#mblur)"/></mask>
<filter id="df_i" x="-5%" y="-5%" width="110%" height="110%" color-interpolation-filters="sRGB"><feGaussianBlur in="SourceGraphic" stdDeviation="11" result="v"/><feTurbulence type="fractalNoise" baseFrequency="0.04" numOctaves="4" seed="97" result="t0"/><feColorMatrix in="t0" type="matrix" values="1 0 0 0 0 1 0 0 0 0 1 0 0 0 0 0 0 0 0 1" result="t"/><feComposite in="v" in2="t" operator="arithmetic" k1="0" k2="1" k3="0.22" k4="-0.11" result="vn"/><feColorMatrix in="vn" type="matrix" values="1 0 0 0 0 1 0 0 0 0 1 0 0 0 0 0 0 0 0 1" result="g"/><feComponentTransfer in="g" result="col"><feFuncR type="table" tableValues="0.541 0.399 0.256 0.114 0.063 0.063 0.063 0.063 0.063 0.063 0.063 0.076 0.090 0.105 0.120 0.136 0.154 0.172 0.196 0.294 0.392 0.490 0.590 0.694 0.799 0.904 1.000 1.000 1.000 1.000 1.000 1.000 1.000"/><feFuncG type="table" tableValues="0.169 0.137 0.106 0.074 0.152 0.290 0.429 0.568 0.707 0.846 0.984 1.000 1.000 1.000 1.000 1.000 1.000 1.000 1.000 1.000 1.000 1.000 1.000 1.000 1.000 1.000 0.989 0.852 0.714 0.577 0.439 0.302 0.165"/><feFuncB type="table" tableValues="1.000 1.000 1.000 1.000 1.000 1.000 1.000 1.000 1.000 1.000 1.000 0.923 0.836 0.749 0.662 0.563 0.456 0.349 0.247 0.198 0.149 0.100 0.059 0.044 0.029 0.014 0.000 0.000 0.000 0.000 0.000 0.000 0.000"/></feComponentTransfer><feTurbulence type="fractalNoise" baseFrequency="0.3" numOctaves="2" seed="197" result="s0"/><feColorMatrix in="s0" type="matrix" values="0 0 0 0 1 0 0 0 0 1 0 0 0 0 1 1 0 0 0 0" result="sn"/><feColorMatrix in="v" type="matrix" values="0 0 0 0 1 0 0 0 0 1 0 0 0 0 1 0 1 0 0 0" result="dn"/><feComposite in="sn" in2="dn" operator="arithmetic" k1="0" k2="1" k3="0.42" k4="-0.71" result="sd"/><feComponentTransfer in="sd" result="spk"><feFuncR type="linear" slope="0" intercept="0.88"/><feFuncG type="linear" slope="0" intercept="0.88"/><feFuncB type="linear" slope="0" intercept="0.88"/><feFuncA type="linear" slope="5" intercept="0"/></feComponentTransfer><feTurbulence type="fractalNoise" baseFrequency="0.09" numOctaves="3" seed="297" result="h0"/><feColorMatrix in="h0" type="matrix" values="0 0 0 0 1 0 0 0 0 1 0 0 0 0 1 1 0 0 0 0" result="hn"/><feColorMatrix in="v" type="matrix" values="0 0 0 0 1 0 0 0 0 1 0 0 0 0 1 0 0 1 0 0" result="hd"/><feComposite in="hn" in2="hd" operator="arithmetic" k1="0" k2="1" k3="0.5" k4="-0.8" result="hs2"/><feComponentTransfer in="hs2" result="hol"><feFuncA type="linear" slope="6" intercept="0"/></feComponentTransfer><feComposite in="spk" in2="hol" operator="over" result="allh"/><feComposite in="col" in2="allh" operator="out"/></filter>
<clipPath id="pc_i"><polygon points="1369.8,1094.1 1680,1043 1800,1025 1954.6,1020 1995.9,1228 1419.4,1322.1"/></clipPath>
<linearGradient id="cbg_i" x1="0" y1="0" x2="1" y2="0"><stop offset="0" stop-color="#8a2bff"/><stop offset="0.1" stop-color="#0000ff"/><stop offset="0.32" stop-color="#00ffff"/><stop offset="0.56" stop-color="#10f810"/><stop offset="0.81" stop-color="#ffff00"/><stop offset="1" stop-color="#ff2a00"/></linearGradient></defs><rect width="2028" height="1444" fill="#fff"/><!-- panel a -->
<rect x="36" y="16.5" width="652.2" height="373.7" fill="#fff"/>
<g clip-path="url(#fc_a_T)" fill="#000"><rect x="36" y="16.5" width="70" height="5.6"/><rect x="171" y="16.5" width="65" height="5.6"/><rect x="301" y="16.5" width="65" height="5.6"/><rect x="431" y="16.5" width="65" height="5.6"/><rect x="561" y="16.5" width="65" height="5.6"/></g>
<g clip-path="url(#fc_a_B)" fill="#000"><rect x="36" y="384.6" width="70" height="5.6"/><rect x="171" y="384.6" width="65" height="5.6"/><rect x="301" y="384.6" width="65" height="5.6"/><rect x="431" y="384.6" width="65" height="5.6"/><rect x="561" y="384.6" width="65" height="5.6"/></g>
<g clip-path="url(#fc_a_L)" fill="#000"><rect x="36" y="16.5" width="5.6" height="44.5"/><rect x="36" y="126" width="5.6" height="65"/><rect x="36" y="256" width="5.6" height="65"/><rect x="36" y="386" width="5.6" height="4.2"/></g>
<g clip-path="url(#fc_a_R)" fill="#000"><rect x="682.6" y="16.5" width="5.6" height="44.5"/><rect x="682.6" y="126" width="5.6" height="65"/><rect x="682.6" y="256" width="5.6" height="65"/><rect x="682.6" y="386" width="5.6" height="4.2"/></g>
<rect x="36.45" y="16.95" width="651.3" height="372.8" fill="none" stroke="#9a9a9a" stroke-width="0.9"/>
<path d="M688.2,16.5 L682.6,22.1 M36,390.2 L41.6,384.6 M688.2,390.2 L682.6,384.6" stroke="#808080" stroke-width="0.8"/>
<g clip-path="url(#mc_a)">
<g transform="translate(362.1 203.35) rotate(-35)"><rect x="-420" y="-420" width="840" height="840" fill="#ccc" filter="url(#hs)"/></g>
<g mask="url(#mk_a)"><g transform="translate(362.1 203.35) rotate(-35)"><rect x="-420" y="-420" width="840" height="840" fill="#ccc" filter="url(#hsm)"/></g></g>
<g clip-path="url(#pc_a)"><g filter="url(#df_a)">
<rect x="15.6" y="6.9" width="695.1" height="394.4" fill="rgb(171,66,0)"/>
<ellipse cx="150" cy="80" rx="70" ry="25" fill="rgb(178,76,0)" transform="rotate(8 150 80)"/>
<ellipse cx="250" cy="100" rx="60" ry="22" fill="rgb(184,107,0)" transform="rotate(8 250 100)"/>
<ellipse cx="120" cy="138" rx="50" ry="10" fill="rgb(128,69,0)" transform="rotate(10 120 138)"/>
<ellipse cx="205" cy="123" rx="25" ry="15" fill="rgb(204,82,0)"/>
<ellipse cx="90" cy="225" rx="50" ry="65" fill="rgb(201,66,0)"/>
<ellipse cx="70" cy="190" rx="14" ry="18" fill="rgb(219,61,0)"/>
<ellipse cx="72" cy="225" rx="16" ry="18" fill="rgb(219,61,0)"/>
<ellipse cx="110" cy="238" rx="18" ry="16" fill="rgb(219,61,0)"/>
<ellipse cx="240" cy="200" rx="45" ry="40" fill="rgb(122,71,0)"/>
<ellipse cx="260" cy="275" rx="90" ry="35" fill="rgb(122,71,0)" transform="rotate(8 260 275)"/>
<ellipse cx="170" cy="150" rx="40" ry="25" fill="rgb(153,120,0)"/>
<ellipse cx="230" cy="130" rx="45" ry="30" fill="rgb(168,133,76)"/>
<ellipse cx="300" cy="185" rx="22" ry="38" fill="rgb(84,61,0)"/>
<ellipse cx="294" cy="160" rx="6" ry="8" fill="rgb(36,56,0)"/>
<ellipse cx="308" cy="205" rx="8" ry="10" fill="rgb(51,56,0)"/>
<ellipse cx="283" cy="176" rx="5" ry="10" fill="rgb(235,56,0)"/>
<ellipse cx="360" cy="180" rx="40" ry="50" fill="rgb(120,69,0)"/>
<ellipse cx="390" cy="140" rx="35" ry="30" fill="rgb(153,69,0)"/>
<ellipse cx="470" cy="280" rx="60" ry="25" fill="rgb(196,76,0)" transform="rotate(8 470 280)"/>
<ellipse cx="590" cy="305" rx="30" ry="20" fill="rgb(196,69,0)"/>
<ellipse cx="500" cy="200" rx="50" ry="40" fill="rgb(153,69,0)"/>
<ellipse cx="600" cy="170" rx="70" ry="50" fill="rgb(168,69,0)"/>
<ellipse cx="395" cy="98" rx="20" ry="15" fill="rgb(199,69,0)"/>
<ellipse cx="570" cy="140" rx="40" ry="20" fill="rgb(140,69,0)"/>
</g>
<ellipse cx="293" cy="160" rx="5" ry="8" fill="#1040ff" filter="url(#sb_2)" transform="rotate(-10 293 160)"/>
<ellipse cx="310" cy="205" rx="9" ry="14" fill="#2070ff" filter="url(#sb_4)" transform="rotate(-20 310 205)"/>
<ellipse cx="283" cy="175" rx="4" ry="11" fill="#ff8010" filter="url(#sb_2_5)" transform="rotate(-15 283 175)"/>
<ellipse cx="286" cy="188" rx="4" ry="9" fill="#f0c000" filter="url(#sb_2_5)" transform="rotate(-15 286 188)"/>
</g>
<path d="M249.8,117.3 C253.82,121.05 268.53,133.63 273.9,139.8 C279.27,145.97 279.85,148.4 282,154.3 C284.15,160.2 284.93,169.32 286.8,175.2 C288.67,181.08 289.45,182.9 293.2,189.6 C296.95,196.3 302.6,206.82 309.3,215.4 C316,223.98 329.38,236.82 333.4,241.1" fill="none" stroke="#000" stroke-width="2.2" stroke-linecap="round"/>
<ellipse cx="292.3" cy="184.8" rx="31" ry="46.3" fill="none" stroke="#c8302a" stroke-width="1.6"/>
<circle cx="285.2" cy="178.4" r="3.3" fill="#e01818" stroke="#7a0000" stroke-width="0.8"/>
<circle cx="285.2" cy="185.8" r="3.3" fill="#e01818" stroke="#7a0000" stroke-width="0.8"/>
<circle cx="292.3" cy="192.8" r="3.3" fill="#e01818" stroke="#7a0000" stroke-width="0.8"/>
<text x="228.3" y="175.2" font-family='"Liberation Serif", "Times New Roman", serif' font-size="21" textLength="53.66" lengthAdjust="spacingAndGlyphs" fill="#0a0a0a">Ms4.9</text>
<text x="225" y="195.4" font-family='"Liberation Serif", "Times New Roman", serif' font-size="21" textLength="55.36" lengthAdjust="spacingAndGlyphs" fill="#0a0a0a">Ms4.7</text>
<text x="241.8" y="215.4" font-family='"Liberation Serif", "Times New Roman", serif' font-size="21" textLength="54.66" lengthAdjust="spacingAndGlyphs" fill="#0a0a0a">Ms4.3</text>
<rect x="394" y="36.4" width="274.9" height="31.9" fill="#fff" stroke="#333" stroke-width="1.5"/>
<text x="398.9" y="59.3" font-family='"Liberation Serif", "Times New Roman", serif' font-size="25" textLength="265.39" lengthAdjust="spacingAndGlyphs" fill="#000">(a) Original Interferogram</text>
<rect x="217.4" y="335.8" width="456.8" height="38.2" fill="#fff" stroke="#333" stroke-width="1.5"/>
<path d="M221.6,352.6 C230.27,349.2 240.1,348.2 250.5,351.4 S265.53,357.9 279.4,357.4" fill="none" stroke="#111" stroke-width="2.4" stroke-linecap="round"/>
<text x="290.6" y="362.2" font-family='"Liberation Serif", "Times New Roman", serif' font-size="23.5" textLength="48.01" lengthAdjust="spacingAndGlyphs" fill="#000">Fault</text>
<circle cx="362.4" cy="355.7" r="8.8" fill="#e81010" stroke="#6a0000" stroke-width="0.8"/>
<text x="381.5" y="362.2" font-family='"Liberation Serif", "Times New Roman", serif' font-size="23.5" textLength="89.22" lengthAdjust="spacingAndGlyphs" fill="#000">Epicenter</text>
<ellipse cx="507.8" cy="354.9" rx="26.5" ry="16.6" fill="none" stroke="#e02020" stroke-width="2.2"/>
<text x="541.9" y="362.2" font-family='"Liberation Serif", "Times New Roman", serif' font-size="23.5" textLength="131.95" lengthAdjust="spacingAndGlyphs" fill="#000">Displacement</text>
<rect x="59.4" y="37" width="26.8" height="55.3" fill="#fff" stroke="#222" stroke-width="1.3"/>
<text x="73.2" y="48" font-family='"Liberation Serif", "Times New Roman", serif' font-size="12.5" font-weight="bold" text-anchor="middle" fill="#000">N</text>
<polygon points="73.2,54.14 85.26,90.36 73.2,82.9 61.28,89.26" fill="#000"/>
</g>
<rect x="41.6" y="22.1" width="641" height="362.5" fill="none" stroke="#555" stroke-width="1"/>
<rect x="47.3" y="431.3" width="597.2" height="27" fill="url(#cbg_a)"/>
<rect x="47.3" y="431.3" width="597.2" height="27" fill="url(#cbshade)"/>
<rect x="48.7" y="432.7" width="594.4" height="24.2" fill="none" stroke="#000" stroke-width="2.8"/>
<text x="47.5" y="484.5" font-family='"Liberation Sans", Arial, sans-serif' font-size="23.7" textLength="33.5" lengthAdjust="spacingAndGlyphs" fill="#000">3.5</text>
<text x="206" y="484.5" font-family='"Liberation Sans", Arial, sans-serif' font-size="23.7" textLength="34.6" lengthAdjust="spacingAndGlyphs" fill="#000">0.5</text>
<text x="349.3" y="484.5" font-family='"Liberation Sans", Arial, sans-serif' font-size="23.7" textLength="13.13" lengthAdjust="spacingAndGlyphs" fill="#000">0</text>
<text x="475.7" y="484.5" font-family='"Liberation Sans", Arial, sans-serif' font-size="23.7" textLength="42.06" lengthAdjust="spacingAndGlyphs" fill="#000">-0.5</text>
<text x="602.4" y="484.5" font-family='"Liberation Sans", Arial, sans-serif' font-size="23.7" textLength="42.36" lengthAdjust="spacingAndGlyphs" fill="#000">-3.3</text>
<text x="651.5" y="454.1" font-family='"Liberation Sans", Arial, sans-serif' font-size="27" textLength="35.45" lengthAdjust="spacingAndGlyphs" fill="#000">cm</text>
<text x="165" y="415" font-family='"Liberation Sans", Arial, sans-serif' font-size="22.4" textLength="111.2" lengthAdjust="spacingAndGlyphs" fill="#000">104°24'0&quot;E</text>
<text x="490.9" y="415" font-family='"Liberation Sans", Arial, sans-serif' font-size="22.4" textLength="111.5" lengthAdjust="spacingAndGlyphs" fill="#000">104°51'0&quot;E</text>
<text transform="translate(29 328) rotate(-90)" x="-0" y="0" font-family='"Liberation Sans", Arial, sans-serif' font-size="22.4" textLength="100.98" lengthAdjust="spacingAndGlyphs" fill="#000">29°20'0&quot;N</text>
<!-- panel b -->
<rect x="692.8" y="16.5" width="655.5" height="373.7" fill="#fff"/>
<g clip-path="url(#fc_b_T)" fill="#000"><rect x="692.8" y="16.5" width="70" height="5.6"/><rect x="827.8" y="16.5" width="65" height="5.6"/><rect x="957.8" y="16.5" width="65" height="5.6"/><rect x="1087.8" y="16.5" width="65" height="5.6"/><rect x="1217.8" y="16.5" width="65" height="5.6"/><rect x="1347.8" y="16.5" width="0.5" height="5.6"/></g>
<g clip-path="url(#fc_b_B)" fill="#000"><rect x="692.8" y="384.6" width="70" height="5.6"/><rect x="827.8" y="384.6" width="65" height="5.6"/><rect x="957.8" y="384.6" width="65" height="5.6"/><rect x="1087.8" y="384.6" width="65" height="5.6"/><rect x="1217.8" y="384.6" width="65" height="5.6"/><rect x="1347.8" y="384.6" width="0.5" height="5.6"/></g>
<g clip-path="url(#fc_b_L)" fill="#000"><rect x="692.8" y="16.5" width="5.6" height="44.5"/><rect x="692.8" y="126" width="5.6" height="65"/><rect x="692.8" y="256" width="5.6" height="65"/><rect x="692.8" y="386" width="5.6" height="4.2"/></g>
<g clip-path="url(#fc_b_R)" fill="#000"><rect x="1342.7" y="16.5" width="5.6" height="44.5"/><rect x="1342.7" y="126" width="5.6" height="65"/><rect x="1342.7" y="256" width="5.6" height="65"/><rect x="1342.7" y="386" width="5.6" height="4.2"/></g>
<rect x="693.25" y="16.95" width="654.6" height="372.8" fill="none" stroke="#9a9a9a" stroke-width="0.9"/>
<path d="M1348.3,16.5 L1342.7,22.1 M692.8,390.2 L698.4,384.6 M1348.3,390.2 L1342.7,384.6" stroke="#808080" stroke-width="0.8"/>
<g clip-path="url(#mc_b)">
<g transform="translate(1020.55 203.35) rotate(-35)"><rect x="-420" y="-420" width="840" height="840" fill="#ccc" filter="url(#hs)"/></g>
<g mask="url(#mk_b)"><g transform="translate(1020.55 203.35) rotate(-35)"><rect x="-420" y="-420" width="840" height="840" fill="#ccc" filter="url(#hsm)"/></g></g>
<g clip-path="url(#pc_b)"><g filter="url(#df_b)">
<rect x="672.9" y="8.1" width="697.6" height="393.9" fill="rgb(161,66,0)"/>
<ellipse cx="930" cy="195" rx="75" ry="70" fill="rgb(117,76,0)"/>
<ellipse cx="915" cy="160" rx="40" ry="35" fill="rgb(107,120,0)"/>
<ellipse cx="800" cy="120" rx="70" ry="30" fill="rgb(140,94,0)"/>
<ellipse cx="1035" cy="90" rx="70" ry="22" fill="rgb(199,69,0)" transform="rotate(8 1035 90)"/>
<ellipse cx="1072" cy="147" rx="14" ry="14" fill="rgb(219,56,0)"/>
<ellipse cx="1150" cy="285" rx="70" ry="25" fill="rgb(214,61,0)" transform="rotate(8 1150 285)"/>
<ellipse cx="1250" cy="310" rx="40" ry="20" fill="rgb(194,61,0)"/>
<ellipse cx="770" cy="235" rx="55" ry="55" fill="rgb(184,69,0)"/>
<ellipse cx="1230" cy="180" rx="80" ry="60" fill="rgb(163,66,0)"/>
<ellipse cx="1000" cy="280" rx="60" ry="30" fill="rgb(143,69,0)"/>
<ellipse cx="870" cy="300" rx="50" ry="25" fill="rgb(140,69,0)"/>
<ellipse cx="1290" cy="130" rx="30" ry="20" fill="rgb(148,69,0)"/>
</g>
</g>
<path d="M907.7,116.4 C911.83,119.58 927,129.57 932.5,135.5 C938,141.43 938.5,145.93 940.7,152 C942.9,158.07 943.77,165.83 945.7,171.9 C947.63,177.97 948.45,181.25 952.3,188.4 C956.15,195.55 962.2,206.1 968.8,214.8 C975.4,223.5 988.05,236.3 991.9,240.6" fill="none" stroke="#000" stroke-width="2.2" stroke-linecap="round"/>
<circle cx="943" cy="178.5" r="3.3" fill="#e01818" stroke="#7a0000" stroke-width="0.8"/>
<circle cx="943" cy="185.8" r="3.3" fill="#e01818" stroke="#7a0000" stroke-width="0.8"/>
<circle cx="950.6" cy="192.7" r="3.3" fill="#e01818" stroke="#7a0000" stroke-width="0.8"/>
<text x="882.9" y="173.5" font-family='"Liberation Serif", "Times New Roman", serif' font-size="21" textLength="55.16" lengthAdjust="spacingAndGlyphs" fill="#0a0a0a">Ms4.9</text>
<text x="880.3" y="193.3" font-family='"Liberation Serif", "Times New Roman", serif' font-size="21" textLength="54.76" lengthAdjust="spacingAndGlyphs" fill="#0a0a0a">Ms4.7</text>
<text x="897.8" y="213.8" font-family='"Liberation Serif", "Times New Roman", serif' font-size="21" textLength="54.46" lengthAdjust="spacingAndGlyphs" fill="#0a0a0a">Ms4.3</text>
<rect x="1121.4" y="37.1" width="207.5" height="30.7" fill="#fff" stroke="#333" stroke-width="1.5"/>
<text x="1126.3" y="60" font-family='"Liberation Serif", "Times New Roman", serif' font-size="25" textLength="198.04" lengthAdjust="spacingAndGlyphs" fill="#000">(b) ZTD Difference</text>
<rect x="1064.7" y="334" width="262.9" height="38.9" fill="#fff" stroke="#333" stroke-width="1.5"/>
<path d="M1069.2,351.2 C1077.83,347.8 1087.6,346.8 1097.95,350 S1112.9,356.5 1126.7,356" fill="none" stroke="#111" stroke-width="2.4" stroke-linecap="round"/>
<text x="1138.7" y="360.75" font-family='"Liberation Serif", "Times New Roman", serif' font-size="23.5" textLength="47.21" lengthAdjust="spacingAndGlyphs" fill="#000">Fault</text>
<circle cx="1210.2" cy="354.25" r="8.8" fill="#e81010" stroke="#6a0000" stroke-width="0.8"/>
<text x="1229.1" y="360.75" font-family='"Liberation Serif", "Times New Roman", serif' font-size="23.5" textLength="89.92" lengthAdjust="spacingAndGlyphs" fill="#000">Epicenter</text>
<rect x="715.1" y="39.7" width="25.8" height="54.5" fill="#fff" stroke="#222" stroke-width="1.3"/>
<text x="728.39" y="50.7" font-family='"Liberation Serif", "Times New Roman", serif' font-size="12.5" font-weight="bold" text-anchor="middle" fill="#000">N</text>
<polygon points="728.39,56.59 740,92.29 728.39,84.94 716.91,91.2" fill="#000"/>
</g>
<rect x="698.4" y="22.1" width="644.3" height="362.5" fill="none" stroke="#555" stroke-width="1"/>
<rect x="703.5" y="430.7" width="596.1" height="25.9" fill="url(#cbg_b)"/>
<rect x="703.5" y="430.7" width="596.1" height="25.9" fill="url(#cbshade)"/>
<rect x="704.9" y="432.1" width="593.3" height="23.1" fill="none" stroke="#000" stroke-width="2.8"/>
<text x="704.9" y="484.5" font-family='"Liberation Sans", Arial, sans-serif' font-size="23.7" textLength="34.5" lengthAdjust="spacingAndGlyphs" fill="#000">0.7</text>
<text x="1121.8" y="484.5" font-family='"Liberation Sans", Arial, sans-serif' font-size="23.7" textLength="13.23" lengthAdjust="spacingAndGlyphs" fill="#000">0</text>
<text x="1242.7" y="484.5" font-family='"Liberation Sans", Arial, sans-serif' font-size="23.7" textLength="55.18" lengthAdjust="spacingAndGlyphs" fill="#000">-0.15</text>
<text x="1311.7" y="452.95" font-family='"Liberation Sans", Arial, sans-serif' font-size="27" textLength="37.94" lengthAdjust="spacingAndGlyphs" fill="#000">cm</text>
<text x="822.2" y="415" font-family='"Liberation Sans", Arial, sans-serif' font-size="22.4" textLength="112.5" lengthAdjust="spacingAndGlyphs" fill="#000">104°24'0&quot;E</text>
<text x="1150.1" y="415" font-family='"Liberation Sans", Arial, sans-serif' font-size="22.4" textLength="111.5" lengthAdjust="spacingAndGlyphs" fill="#000">104°51'0&quot;E</text>
<!-- panel c -->
<rect x="1355.2" y="16.5" width="654.6" height="373.7" fill="#fff"/>
<g clip-path="url(#fc_c_T)" fill="#000"><rect x="1355.2" y="16.5" width="70" height="5.6"/><rect x="1490.2" y="16.5" width="65" height="5.6"/><rect x="1620.2" y="16.5" width="65" height="5.6"/><rect x="1750.2" y="16.5" width="65" height="5.6"/><rect x="1880.2" y="16.5" width="65" height="5.6"/></g>
<g clip-path="url(#fc_c_B)" fill="#000"><rect x="1355.2" y="384.6" width="70" height="5.6"/><rect x="1490.2" y="384.6" width="65" height="5.6"/><rect x="1620.2" y="384.6" width="65" height="5.6"/><rect x="1750.2" y="384.6" width="65" height="5.6"/><rect x="1880.2" y="384.6" width="65" height="5.6"/></g>
<g clip-path="url(#fc_c_L)" fill="#000"><rect x="1355.2" y="16.5" width="5.6" height="44.5"/><rect x="1355.2" y="126" width="5.6" height="65"/><rect x="1355.2" y="256" width="5.6" height="65"/><rect x="1355.2" y="386" width="5.6" height="4.2"/></g>
<g clip-path="url(#fc_c_R)" fill="#000"><rect x="2004.2" y="16.5" width="5.6" height="44.5"/><rect x="2004.2" y="126" width="5.6" height="65"/><rect x="2004.2" y="256" width="5.6" height="65"/><rect x="2004.2" y="386" width="5.6" height="4.2"/></g>
<rect x="1355.65" y="16.95" width="653.7" height="372.8" fill="none" stroke="#9a9a9a" stroke-width="0.9"/>
<path d="M2009.8,16.5 L2004.2,22.1 M1355.2,390.2 L1360.8,384.6 M2009.8,390.2 L2004.2,384.6" stroke="#808080" stroke-width="0.8"/>
<g clip-path="url(#mc_c)">
<g transform="translate(1682.5 203.35) rotate(-35)"><rect x="-420" y="-420" width="840" height="840" fill="#ccc" filter="url(#hs)"/></g>
<g mask="url(#mk_c)"><g transform="translate(1682.5 203.35) rotate(-35)"><rect x="-420" y="-420" width="840" height="840" fill="#ccc" filter="url(#hsm)"/></g></g>
<g clip-path="url(#pc_c)"><g filter="url(#df_c)">
<rect x="1334.9" y="6.4" width="695.9" height="395.6" fill="rgb(163,61,0)"/>
<ellipse cx="1560" cy="245" rx="90" ry="50" fill="rgb(135,66,0)" transform="rotate(10 1560 245)"/>
<ellipse cx="1500" cy="210" rx="40" ry="30" fill="rgb(143,66,0)"/>
<ellipse cx="1615" cy="165" rx="10" ry="12" fill="rgb(56,56,0)"/>
<ellipse cx="1625" cy="205" rx="20" ry="25" fill="rgb(107,61,0)"/>
<ellipse cx="1603" cy="172" rx="5" ry="12" fill="rgb(224,56,0)"/>
<ellipse cx="1420" cy="200" rx="35" ry="40" fill="rgb(184,66,0)"/>
<ellipse cx="1440" cy="265" rx="35" ry="25" fill="rgb(184,61,0)"/>
<ellipse cx="1540" cy="130" rx="60" ry="25" fill="rgb(168,107,0)"/>
<ellipse cx="1480" cy="140" rx="40" ry="30" fill="rgb(158,107,0)"/>
<ellipse cx="1800" cy="200" rx="90" ry="60" fill="rgb(166,61,0)"/>
<ellipse cx="1880" cy="300" rx="60" ry="25" fill="rgb(178,61,0)"/>
<ellipse cx="1700" cy="300" rx="60" ry="25" fill="rgb(171,71,0)"/>
<ellipse cx="1690" cy="130" rx="60" ry="30" fill="rgb(153,61,0)"/>
</g>
<ellipse cx="1614" cy="159" rx="5" ry="7" fill="#1040ff" filter="url(#sb_2)" transform="rotate(-10 1614 159)"/>
<ellipse cx="1628" cy="205" rx="8" ry="13" fill="#30a0ff" filter="url(#sb_4)" transform="rotate(-20 1628 205)"/>
<ellipse cx="1603" cy="172" rx="4" ry="10" fill="#ff9010" filter="url(#sb_2_5)" transform="rotate(-15 1603 172)"/>
<ellipse cx="1606" cy="186" rx="4" ry="9" fill="#f0d000" filter="url(#sb_2_5)" transform="rotate(-15 1606 186)"/>
</g>
<path d="M1569.7,116.4 C1574.1,119.87 1590.32,131.27 1596.1,137.2 C1601.88,143.13 1602.2,146.22 1604.4,152 C1606.6,157.78 1607.38,165.83 1609.3,171.9 C1611.22,177.97 1612.03,181.25 1615.9,188.4 C1619.77,195.55 1626.17,205.98 1632.5,214.8 C1638.83,223.62 1650.33,236.88 1653.9,241.3" fill="none" stroke="#000" stroke-width="2.2" stroke-linecap="round"/>
<ellipse cx="1607.7" cy="181.1" rx="29.7" ry="47" fill="none" stroke="#c8302a" stroke-width="1.6"/>
<circle cx="1605" cy="178.5" r="3.3" fill="#e01818" stroke="#7a0000" stroke-width="0.8"/>
<circle cx="1605" cy="186.1" r="3.3" fill="#e01818" stroke="#7a0000" stroke-width="0.8"/>
<circle cx="1612.6" cy="193.4" r="3.3" fill="#e01818" stroke="#7a0000" stroke-width="0.8"/>
<text x="1540" y="173.5" font-family='"Liberation Serif", "Times New Roman", serif' font-size="21" textLength="54.46" lengthAdjust="spacingAndGlyphs" fill="#0a0a0a">Ms4.9</text>
<text x="1536.6" y="193.3" font-family='"Liberation Serif", "Times New Roman", serif' font-size="21" textLength="54.56" lengthAdjust="spacingAndGlyphs" fill="#0a0a0a">Ms4.7</text>
<text x="1554.8" y="213.8" font-family='"Liberation Serif", "Times New Roman", serif' font-size="21" textLength="54.46" lengthAdjust="spacingAndGlyphs" fill="#0a0a0a">Ms4.3</text>
<rect x="1613.3" y="38.1" width="379.2" height="28.1" fill="#fff" stroke="#333" stroke-width="1.5"/>
<text x="1618.2" y="61" font-family='"Liberation Serif", "Times New Roman", serif' font-size="25" textLength="369.64" lengthAdjust="spacingAndGlyphs" fill="#000">(c) GACOS-Corrected Interferogram</text>
<rect x="1535" y="334.6" width="455.9" height="38.5" fill="#fff" stroke="#333" stroke-width="1.5"/>
<path d="M1539.2,351.5 C1547.87,348.1 1557.7,347.1 1568.1,350.3 S1583.13,356.8 1597,356.3" fill="none" stroke="#111" stroke-width="2.4" stroke-linecap="round"/>
<text x="1608.2" y="361.15" font-family='"Liberation Serif", "Times New Roman", serif' font-size="23.5" textLength="48.01" lengthAdjust="spacingAndGlyphs" fill="#000">Fault</text>
<circle cx="1680" cy="354.65" r="8.8" fill="#e81010" stroke="#6a0000" stroke-width="0.8"/>
<text x="1699.1" y="361.15" font-family='"Liberation Serif", "Times New Roman", serif' font-size="23.5" textLength="89.22" lengthAdjust="spacingAndGlyphs" fill="#000">Epicenter</text>
<ellipse cx="1825.4" cy="353.85" rx="26.5" ry="16.6" fill="none" stroke="#e02020" stroke-width="2.2"/>
<text x="1859.5" y="361.15" font-family='"Liberation Serif", "Times New Roman", serif' font-size="23.5" textLength="131.95" lengthAdjust="spacingAndGlyphs" fill="#000">Displacement</text>
<rect x="1374.8" y="40.4" width="25.7" height="53.8" fill="#fff" stroke="#222" stroke-width="1.3"/>
<text x="1388.04" y="51.4" font-family='"Liberation Serif", "Times New Roman", serif' font-size="12.5" font-weight="bold" text-anchor="middle" fill="#000">N</text>
<polygon points="1388.04,57.08 1399.6,92.32 1388.04,85.05 1376.6,91.24" fill="#000"/>
</g>
<rect x="1360.8" y="22.1" width="643.4" height="362.5" fill="none" stroke="#555" stroke-width="1"/>
<rect x="1363.1" y="432.4" width="598.3" height="25.4" fill="url(#cbg_c)"/>
<rect x="1363.1" y="432.4" width="598.3" height="25.4" fill="url(#cbshade)"/>
<rect x="1364.5" y="433.8" width="595.5" height="22.6" fill="none" stroke="#000" stroke-width="2.8"/>
<text x="1363" y="484.5" font-family='"Liberation Sans", Arial, sans-serif' font-size="23.7" textLength="34" lengthAdjust="spacingAndGlyphs" fill="#000">3.5</text>
<text x="1522.5" y="484.5" font-family='"Liberation Sans", Arial, sans-serif' font-size="23.7" textLength="33.9" lengthAdjust="spacingAndGlyphs" fill="#000">0.5</text>
<text x="1665" y="484.5" font-family='"Liberation Sans", Arial, sans-serif' font-size="23.7" textLength="13.23" lengthAdjust="spacingAndGlyphs" fill="#000">0</text>
<text x="1791" y="484.5" font-family='"Liberation Sans", Arial, sans-serif' font-size="23.7" textLength="42.56" lengthAdjust="spacingAndGlyphs" fill="#000">-0.5</text>
<text x="1918.4" y="484.5" font-family='"Liberation Sans", Arial, sans-serif' font-size="23.7" textLength="42.36" lengthAdjust="spacingAndGlyphs" fill="#000">-3.3</text>
<text x="1966.9" y="454.4" font-family='"Liberation Sans", Arial, sans-serif' font-size="27" textLength="36.25" lengthAdjust="spacingAndGlyphs" fill="#000">cm</text>
<text x="1484.8" y="415" font-family='"Liberation Sans", Arial, sans-serif' font-size="22.4" textLength="111.3" lengthAdjust="spacingAndGlyphs" fill="#000">104°24'0&quot;E</text>
<text x="1812.2" y="415" font-family='"Liberation Sans", Arial, sans-serif' font-size="22.4" textLength="110.6" lengthAdjust="spacingAndGlyphs" fill="#000">104°51'0&quot;E</text>
<!-- panel d -->
<rect x="36" y="492" width="652.2" height="377.6" fill="#fff"/>
<g clip-path="url(#fc_d_T)" fill="#000"><rect x="36" y="492" width="70" height="5.6"/><rect x="171" y="492" width="65" height="5.6"/><rect x="301" y="492" width="65" height="5.6"/><rect x="431" y="492" width="65" height="5.6"/><rect x="561" y="492" width="65" height="5.6"/></g>
<g clip-path="url(#fc_d_B)" fill="#000"><rect x="36" y="864" width="70" height="5.6"/><rect x="171" y="864" width="65" height="5.6"/><rect x="301" y="864" width="65" height="5.6"/><rect x="431" y="864" width="65" height="5.6"/><rect x="561" y="864" width="65" height="5.6"/></g>
<g clip-path="url(#fc_d_L)" fill="#000"><rect x="36" y="492" width="5.6" height="44.5"/><rect x="36" y="601.5" width="5.6" height="65"/><rect x="36" y="731.5" width="5.6" height="65"/><rect x="36" y="861.5" width="5.6" height="8.1"/></g>
<g clip-path="url(#fc_d_R)" fill="#000"><rect x="682.6" y="492" width="5.6" height="44.5"/><rect x="682.6" y="601.5" width="5.6" height="65"/><rect x="682.6" y="731.5" width="5.6" height="65"/><rect x="682.6" y="861.5" width="5.6" height="8.1"/></g>
<rect x="36.45" y="492.45" width="651.3" height="376.7" fill="none" stroke="#9a9a9a" stroke-width="0.9"/>
<path d="M688.2,492 L682.6,497.6 M36,869.6 L41.6,864 M688.2,869.6 L682.6,864" stroke="#808080" stroke-width="0.8"/>
<g clip-path="url(#mc_d)">
<g transform="translate(362.1 680.8) rotate(-35)"><rect x="-420" y="-420" width="840" height="840" fill="#ccc" filter="url(#hs)"/></g>
<g mask="url(#mk_d)"><g transform="translate(362.1 680.8) rotate(-35)"><rect x="-420" y="-420" width="840" height="840" fill="#ccc" filter="url(#hsm)"/></g></g>
<g clip-path="url(#pc_d)"><g filter="url(#df_d)">
<rect x="14.9" y="509.5" width="694.2" height="352.4" fill="rgb(87,76,0)"/>
<ellipse cx="130" cy="640" rx="95" ry="45" fill="rgb(43,145,191)" transform="rotate(-5 130 640)"/>
<ellipse cx="280" cy="588" rx="115" ry="40" fill="rgb(41,120,115)" transform="rotate(-5 280 588)"/>
<ellipse cx="430" cy="565" rx="70" ry="26" fill="rgb(46,107,89)" transform="rotate(-5 430 565)"/>
<ellipse cx="150" cy="725" rx="80" ry="50" fill="rgb(71,102,0)"/>
<ellipse cx="300" cy="700" rx="110" ry="50" fill="rgb(85,76,0)"/>
<ellipse cx="420" cy="620" rx="55" ry="35" fill="rgb(82,82,0)"/>
<ellipse cx="510" cy="575" rx="50" ry="30" fill="rgb(92,82,0)"/>
<ellipse cx="545" cy="615" rx="15" ry="15" fill="rgb(143,69,0)"/>
<ellipse cx="250" cy="800" rx="110" ry="25" fill="rgb(133,61,0)" transform="rotate(-8 250 800)"/>
<ellipse cx="350" cy="765" rx="40" ry="25" fill="rgb(148,61,0)"/>
<ellipse cx="352" cy="768" rx="14" ry="10" fill="rgb(199,56,0)"/>
<ellipse cx="480" cy="700" rx="65" ry="55" fill="rgb(128,76,0)"/>
<ellipse cx="612" cy="640" rx="72" ry="112" fill="rgb(201,133,0)"/>
<ellipse cx="560" cy="600" rx="25" ry="35" fill="rgb(178,107,0)"/>
<ellipse cx="583" cy="627" rx="18" ry="16" fill="rgb(217,133,0)"/>
<ellipse cx="602" cy="607" rx="15" ry="14" fill="rgb(217,133,0)"/>
<ellipse cx="622" cy="694" rx="18" ry="16" fill="rgb(217,133,0)"/>
<ellipse cx="535" cy="650" rx="25" ry="40" fill="rgb(168,94,0)"/>
</g>
<path d="M495.7,539.4 C497.32,542.63 504.43,551.37 505.4,558.8 C506.37,566.23 499.9,580.8 501.5,584 C503.1,587.2 511.12,575.75 515,578 C518.88,580.25 521.55,592.67 524.8,597.5 C528.05,602.33 530.3,604.42 534.5,607 C538.7,609.58 547.08,610.05 550,613 C552.92,615.95 552.67,621.47 552,624.7 C551.33,627.93 548.92,631.43 546,632.4 C543.08,633.37 537.38,629.23 534.5,630.5 C531.62,631.77 530.95,636.42 528.7,640 C526.45,643.58 524.62,651 521,652 C517.38,653 510.57,646 507,646 C503.43,646 499.55,649.08 499.6,652 C499.65,654.92 504.07,660.33 507.3,663.5 C510.53,666.67 516.08,667.45 519,671 C521.92,674.55 524.8,680.88 524.8,684.8 C524.8,688.72 519,690.3 519,694.5 C519,698.7 524.8,705.15 524.8,710 C524.8,714.85 519,718.1 519,723.6 C519,729.1 523.18,736.55 524.8,743 C526.42,749.45 528.05,759.08 528.7,762.3" fill="none" stroke="#dcdcdc" stroke-width="1.6" stroke-opacity="0.9" stroke-linejoin="round"/>
</g>
<path d="M129.1,625.4 C133.5,630.08 148.9,643.87 155.5,653.5 C162.1,663.13 163.73,673.28 168.7,683.2 C173.67,693.12 178.97,703.63 185.3,713 C191.63,722.37 203.13,735 206.7,739.4" fill="none" stroke="#000" stroke-width="2.2" stroke-linecap="round"/>
<circle cx="185.9" cy="662.4" r="3" fill="#e01818" stroke="#7a0000" stroke-width="0.8"/>
<circle cx="189.2" cy="662.4" r="3" fill="#e01818" stroke="#7a0000" stroke-width="0.8"/>
<text x="125.8" y="681" font-family='"Liberation Serif", "Times New Roman", serif' font-size="21" textLength="54.46" lengthAdjust="spacingAndGlyphs" fill="#0a0a0a">Ms4.0</text>
<text x="195.2" y="676" font-family='"Liberation Serif", "Times New Roman", serif' font-size="21" textLength="54.46" lengthAdjust="spacingAndGlyphs" fill="#0a0a0a">Ms4.3</text>
<rect x="395" y="510.8" width="274.2" height="30.4" fill="#fff" stroke="#333" stroke-width="1.5"/>
<text x="399.9" y="533.7" font-family='"Liberation Serif", "Times New Roman", serif' font-size="25" textLength="264.72" lengthAdjust="spacingAndGlyphs" fill="#000">(d) Original Interferogram</text>
<rect x="406.6" y="815.4" width="262.6" height="38.6" fill="#fff" stroke="#333" stroke-width="1.5"/>
<path d="M411.1,832.4 C419.73,829 429.5,828 439.85,831.2 S454.8,837.7 468.6,837.2" fill="none" stroke="#111" stroke-width="2.4" stroke-linecap="round"/>
<text x="480.6" y="842" font-family='"Liberation Serif", "Times New Roman", serif' font-size="23.5" textLength="47.21" lengthAdjust="spacingAndGlyphs" fill="#000">Fault</text>
<circle cx="552.1" cy="835.5" r="8.8" fill="#e81010" stroke="#6a0000" stroke-width="0.8"/>
<text x="571" y="842" font-family='"Liberation Serif", "Times New Roman", serif' font-size="23.5" textLength="89.92" lengthAdjust="spacingAndGlyphs" fill="#000">Epicenter</text>
<rect x="58.1" y="514" width="26.4" height="53.6" fill="#fff" stroke="#222" stroke-width="1.3"/>
<text x="71.7" y="525" font-family='"Liberation Serif", "Times New Roman", serif' font-size="12.5" font-weight="bold" text-anchor="middle" fill="#000">N</text>
<polygon points="71.7,530.62 83.58,565.72 71.7,558.49 59.95,564.65" fill="#000"/>
</g>
<rect x="41.6" y="497.6" width="641" height="366.4" fill="none" stroke="#555" stroke-width="1"/>
<rect x="48.3" y="905.6" width="595.5" height="26.9" fill="url(#cbg_d)"/>
<rect x="48.3" y="905.6" width="595.5" height="26.9" fill="url(#cbshade)"/>
<rect x="49.7" y="907" width="592.7" height="24.1" fill="none" stroke="#000" stroke-width="2.8"/>
<text x="48.3" y="958.5" font-family='"Liberation Sans", Arial, sans-serif' font-size="23.7" textLength="13.13" lengthAdjust="spacingAndGlyphs" fill="#000">5</text>
<text x="207" y="958.5" font-family='"Liberation Sans", Arial, sans-serif' font-size="23.7" textLength="12.03" lengthAdjust="spacingAndGlyphs" fill="#000">1</text>
<text x="349" y="958.5" font-family='"Liberation Sans", Arial, sans-serif' font-size="23.7" textLength="13.43" lengthAdjust="spacingAndGlyphs" fill="#000">0</text>
<text x="474.6" y="958.5" font-family='"Liberation Sans", Arial, sans-serif' font-size="23.7" textLength="20.68" lengthAdjust="spacingAndGlyphs" fill="#000">-1</text>
<text x="601.3" y="958.5" font-family='"Liberation Sans", Arial, sans-serif' font-size="23.7" textLength="21.68" lengthAdjust="spacingAndGlyphs" fill="#000">-4</text>
<text x="650.7" y="928.35" font-family='"Liberation Sans", Arial, sans-serif' font-size="27" textLength="35.45" lengthAdjust="spacingAndGlyphs" fill="#000">cm</text>
<text x="113.9" y="893.5" font-family='"Liberation Sans", Arial, sans-serif' font-size="22.4" textLength="111.1" lengthAdjust="spacingAndGlyphs" fill="#000">104°30'0&quot;E</text>
<text x="336.6" y="893.5" font-family='"Liberation Sans", Arial, sans-serif' font-size="22.4" textLength="112.1" lengthAdjust="spacingAndGlyphs" fill="#000">104°50'0&quot;E</text>
<text x="560" y="893.5" font-family='"Liberation Sans", Arial, sans-serif' font-size="22.4" textLength="112.4" lengthAdjust="spacingAndGlyphs" fill="#000">105°10'0&quot;E</text>
<text transform="translate(29 600.5) rotate(-90)" x="-0" y="0" font-family='"Liberation Sans", Arial, sans-serif' font-size="22.4" textLength="93.48" lengthAdjust="spacingAndGlyphs" fill="#000">29°40'0&quot;N</text>
<text transform="translate(29 832) rotate(-90)" x="-0" y="0" font-family='"Liberation Sans", Arial, sans-serif' font-size="22.4" textLength="101.18" lengthAdjust="spacingAndGlyphs" fill="#000">29°20'0&quot;N</text>
<!-- panel e -->
<rect x="692.8" y="492" width="655.5" height="377.6" fill="#fff"/>
<g clip-path="url(#fc_e_T)" fill="#000"><rect x="692.8" y="492" width="70" height="5.6"/><rect x="827.8" y="492" width="65" height="5.6"/><rect x="957.8" y="492" width="65" height="5.6"/><rect x="1087.8" y="492" width="65" height="5.6"/><rect x="1217.8" y="492" width="65" height="5.6"/><rect x="1347.8" y="492" width="0.5" height="5.6"/></g>
<g clip-path="url(#fc_e_B)" fill="#000"><rect x="692.8" y="864" width="70" height="5.6"/><rect x="827.8" y="864" width="65" height="5.6"/><rect x="957.8" y="864" width="65" height="5.6"/><rect x="1087.8" y="864" width="65" height="5.6"/><rect x="1217.8" y="864" width="65" height="5.6"/><rect x="1347.8" y="864" width="0.5" height="5.6"/></g>
<g clip-path="url(#fc_e_L)" fill="#000"><rect x="692.8" y="492" width="5.6" height="44.5"/><rect x="692.8" y="601.5" width="5.6" height="65"/><rect x="692.8" y="731.5" width="5.6" height="65"/><rect x="692.8" y="861.5" width="5.6" height="8.1"/></g>
<g clip-path="url(#fc_e_R)" fill="#000"><rect x="1342.7" y="492" width="5.6" height="44.5"/><rect x="1342.7" y="601.5" width="5.6" height="65"/><rect x="1342.7" y="731.5" width="5.6" height="65"/><rect x="1342.7" y="861.5" width="5.6" height="8.1"/></g>
<rect x="693.25" y="492.45" width="654.6" height="376.7" fill="none" stroke="#9a9a9a" stroke-width="0.9"/>
<path d="M1348.3,492 L1342.7,497.6 M692.8,869.6 L698.4,864 M1348.3,869.6 L1342.7,864" stroke="#808080" stroke-width="0.8"/>
<g clip-path="url(#mc_e)">
<g transform="translate(1020.55 680.8) rotate(-35)"><rect x="-420" y="-420" width="840" height="840" fill="#ccc" filter="url(#hs)"/></g>
<g mask="url(#mk_e)"><g transform="translate(1020.55 680.8) rotate(-35)"><rect x="-420" y="-420" width="840" height="840" fill="#ccc" filter="url(#hsm)"/></g></g>
<g clip-path="url(#pc_e)"><g filter="url(#df_e)">
<rect x="676.2" y="507.9" width="694.3" height="352.3" fill="rgb(115,76,0)"/>
<ellipse cx="790" cy="640" rx="95" ry="45" fill="rgb(15,145,191)" transform="rotate(-5 790 640)"/>
<ellipse cx="940" cy="588" rx="115" ry="40" fill="rgb(20,107,115)" transform="rotate(-5 940 588)"/>
<ellipse cx="1075" cy="565" rx="70" ry="26" fill="rgb(26,107,89)" transform="rotate(-5 1075 565)"/>
<ellipse cx="1120" cy="570" rx="40" ry="20" fill="rgb(61,94,0)" transform="rotate(-5 1120 570)"/>
<ellipse cx="760" cy="715" rx="45" ry="35" fill="rgb(46,94,0)"/>
<ellipse cx="870" cy="690" rx="100" ry="50" fill="rgb(69,82,0)"/>
<ellipse cx="1050" cy="625" rx="45" ry="35" fill="rgb(61,94,0)"/>
<ellipse cx="940" cy="790" rx="120" ry="25" fill="rgb(128,69,0)" transform="rotate(-8 940 790)"/>
<ellipse cx="790" cy="790" rx="35" ry="30" fill="rgb(64,82,0)"/>
<ellipse cx="1010" cy="772" rx="12" ry="10" fill="rgb(184,61,0)"/>
<ellipse cx="1100" cy="690" rx="80" ry="70" fill="rgb(128,76,0)"/>
<ellipse cx="1204" cy="607" rx="20" ry="20" fill="rgb(122,76,0)"/>
<ellipse cx="1280" cy="645" rx="55" ry="95" fill="rgb(173,133,0)"/>
<ellipse cx="1249" cy="625" rx="18" ry="18" fill="rgb(194,133,0)"/>
<ellipse cx="1282" cy="691" rx="18" ry="16" fill="rgb(194,133,0)"/>
<ellipse cx="1040" cy="757" rx="15" ry="10" fill="rgb(178,69,0)"/>
</g>
<path d="M1157,539.4 C1158.62,542.63 1165.73,551.37 1166.7,558.8 C1167.67,566.23 1161.2,580.8 1162.8,584 C1164.4,587.2 1172.42,575.75 1176.3,578 C1180.18,580.25 1182.85,592.67 1186.1,597.5 C1189.35,602.33 1191.6,604.42 1195.8,607 C1200,609.58 1208.38,610.05 1211.3,613 C1214.22,615.95 1213.97,621.47 1213.3,624.7 C1212.63,627.93 1210.22,631.43 1207.3,632.4 C1204.38,633.37 1198.68,629.23 1195.8,630.5 C1192.92,631.77 1192.25,636.42 1190,640 C1187.75,643.58 1185.92,651 1182.3,652 C1178.68,653 1171.87,646 1168.3,646 C1164.73,646 1160.85,649.08 1160.9,652 C1160.95,654.92 1165.37,660.33 1168.6,663.5 C1171.83,666.67 1177.38,667.45 1180.3,671 C1183.22,674.55 1186.1,680.88 1186.1,684.8 C1186.1,688.72 1180.3,690.3 1180.3,694.5 C1180.3,698.7 1186.1,705.15 1186.1,710 C1186.1,714.85 1180.3,718.1 1180.3,723.6 C1180.3,729.1 1184.48,736.55 1186.1,743 C1187.72,749.45 1189.35,759.08 1190,762.3" fill="none" stroke="#dcdcdc" stroke-width="1.6" stroke-opacity="0.9" stroke-linejoin="round"/>
</g>
<path d="M788.8,625.4 C792.92,630.08 807.17,643.87 813.5,653.5 C819.83,663.13 821.83,673.28 826.8,683.2 C831.77,693.12 836.7,703.53 843.3,713 C849.9,722.47 862.55,735.5 866.4,740" fill="none" stroke="#000" stroke-width="2.2" stroke-linecap="round"/>
<circle cx="845.9" cy="662.4" r="3" fill="#e01818" stroke="#7a0000" stroke-width="0.8"/>
<circle cx="849.2" cy="662.4" r="3" fill="#e01818" stroke="#7a0000" stroke-width="0.8"/>
<text x="783.8" y="675" font-family='"Liberation Serif", "Times New Roman", serif' font-size="21" textLength="54.46" lengthAdjust="spacingAndGlyphs" fill="#0a0a0a">Ms4.0</text>
<text x="854.8" y="671.7" font-family='"Liberation Serif", "Times New Roman", serif' font-size="21" textLength="54.46" lengthAdjust="spacingAndGlyphs" fill="#0a0a0a">Ms4.3</text>
<rect x="1123.4" y="509.8" width="208.1" height="30.7" fill="#fff" stroke="#333" stroke-width="1.5"/>
<text x="1128.3" y="532.7" font-family='"Liberation Serif", "Times New Roman", serif' font-size="25" textLength="198.61" lengthAdjust="spacingAndGlyphs" fill="#000">(e) ZTD Difference</text>
<rect x="1067.9" y="813" width="263.6" height="38.7" fill="#fff" stroke="#333" stroke-width="1.5"/>
<path d="M1072.4,830 C1081.03,826.6 1090.8,825.6 1101.15,828.8 S1116.1,835.3 1129.9,834.8" fill="none" stroke="#111" stroke-width="2.4" stroke-linecap="round"/>
<text x="1141.9" y="839.65" font-family='"Liberation Serif", "Times New Roman", serif' font-size="23.5" textLength="47.21" lengthAdjust="spacingAndGlyphs" fill="#000">Fault</text>
<circle cx="1213.4" cy="833.15" r="8.8" fill="#e81010" stroke="#6a0000" stroke-width="0.8"/>
<text x="1232.3" y="839.65" font-family='"Liberation Serif", "Times New Roman", serif' font-size="23.5" textLength="89.92" lengthAdjust="spacingAndGlyphs" fill="#000">Epicenter</text>
<rect x="712.8" y="518" width="26.4" height="53.6" fill="#fff" stroke="#222" stroke-width="1.3"/>
<text x="726.4" y="529" font-family='"Liberation Serif", "Times New Roman", serif' font-size="12.5" font-weight="bold" text-anchor="middle" fill="#000">N</text>
<polygon points="726.4,534.62 738.28,569.72 726.4,562.49 714.65,568.65" fill="#000"/>
</g>
<rect x="698.4" y="497.6" width="644.3" height="366.4" fill="none" stroke="#555" stroke-width="1"/>
<rect x="716.2" y="904.9" width="585.1" height="25.9" fill="url(#cbg_e)"/>
<rect x="716.2" y="904.9" width="585.1" height="25.9" fill="url(#cbshade)"/>
<rect x="717.6" y="906.3" width="582.3" height="23.1" fill="none" stroke="#000" stroke-width="2.8"/>
<text x="716.2" y="958.5" font-family='"Liberation Sans", Arial, sans-serif' font-size="23.7" textLength="12.13" lengthAdjust="spacingAndGlyphs" fill="#000">2</text>
<text x="1008" y="958.5" font-family='"Liberation Sans", Arial, sans-serif' font-size="23.7" textLength="13.73" lengthAdjust="spacingAndGlyphs" fill="#000">0</text>
<text x="1280.6" y="958.5" font-family='"Liberation Sans", Arial, sans-serif' font-size="23.7" textLength="20.68" lengthAdjust="spacingAndGlyphs" fill="#000">-2</text>
<text x="1313.4" y="927.15" font-family='"Liberation Sans", Arial, sans-serif' font-size="27" textLength="36.25" lengthAdjust="spacingAndGlyphs" fill="#000">cm</text>
<text x="772.5" y="893.5" font-family='"Liberation Sans", Arial, sans-serif' font-size="22.4" textLength="112.9" lengthAdjust="spacingAndGlyphs" fill="#000">104°30'0&quot;E</text>
<text x="996.9" y="893.5" font-family='"Liberation Sans", Arial, sans-serif' font-size="22.4" textLength="112.9" lengthAdjust="spacingAndGlyphs" fill="#000">104°50'0&quot;E</text>
<text x="1222" y="893.5" font-family='"Liberation Sans", Arial, sans-serif' font-size="22.4" textLength="112.1" lengthAdjust="spacingAndGlyphs" fill="#000">105°10'0&quot;E</text>
<!-- panel f -->
<rect x="1355.2" y="492" width="654.6" height="377.6" fill="#fff"/>
<g clip-path="url(#fc_f_T)" fill="#000"><rect x="1355.2" y="492" width="70" height="5.6"/><rect x="1490.2" y="492" width="65" height="5.6"/><rect x="1620.2" y="492" width="65" height="5.6"/><rect x="1750.2" y="492" width="65" height="5.6"/><rect x="1880.2" y="492" width="65" height="5.6"/></g>
<g clip-path="url(#fc_f_B)" fill="#000"><rect x="1355.2" y="864" width="70" height="5.6"/><rect x="1490.2" y="864" width="65" height="5.6"/><rect x="1620.2" y="864" width="65" height="5.6"/><rect x="1750.2" y="864" width="65" height="5.6"/><rect x="1880.2" y="864" width="65" height="5.6"/></g>
<g clip-path="url(#fc_f_L)" fill="#000"><rect x="1355.2" y="492" width="5.6" height="44.5"/><rect x="1355.2" y="601.5" width="5.6" height="65"/><rect x="1355.2" y="731.5" width="5.6" height="65"/><rect x="1355.2" y="861.5" width="5.6" height="8.1"/></g>
<g clip-path="url(#fc_f_R)" fill="#000"><rect x="2004.2" y="492" width="5.6" height="44.5"/><rect x="2004.2" y="601.5" width="5.6" height="65"/><rect x="2004.2" y="731.5" width="5.6" height="65"/><rect x="2004.2" y="861.5" width="5.6" height="8.1"/></g>
<rect x="1355.65" y="492.45" width="653.7" height="376.7" fill="none" stroke="#9a9a9a" stroke-width="0.9"/>
<path d="M2009.8,492 L2004.2,497.6 M1355.2,869.6 L1360.8,864 M2009.8,869.6 L2004.2,864" stroke="#808080" stroke-width="0.8"/>
<g clip-path="url(#mc_f)">
<g transform="translate(1682.5 680.8) rotate(-35)"><rect x="-420" y="-420" width="840" height="840" fill="#ccc" filter="url(#hs)"/></g>
<g mask="url(#mk_f)"><g transform="translate(1682.5 680.8) rotate(-35)"><rect x="-420" y="-420" width="840" height="840" fill="#ccc" filter="url(#hsm)"/></g></g>
<g clip-path="url(#pc_f)"><g filter="url(#df_f)">
<rect x="1339.8" y="509.5" width="691" height="352.4" fill="rgb(168,71,0)"/>
<ellipse cx="1445" cy="640" rx="85" ry="42" fill="rgb(82,145,204)" transform="rotate(-5 1445 640)"/>
<ellipse cx="1520" cy="615" rx="40" ry="25" fill="rgb(102,120,128)" transform="rotate(-5 1520 615)"/>
<ellipse cx="1392" cy="678" rx="12" ry="14" fill="rgb(31,94,0)"/>
<ellipse cx="1440" cy="820" rx="30" ry="15" fill="rgb(46,107,0)"/>
<ellipse cx="1480" cy="775" rx="75" ry="30" fill="rgb(117,82,0)"/>
<ellipse cx="1905" cy="746" rx="14" ry="12" fill="rgb(31,82,0)"/>
<ellipse cx="1985" cy="715" rx="20" ry="35" fill="rgb(71,94,0)"/>
<ellipse cx="1745" cy="556" rx="40" ry="14" fill="rgb(82,94,0)"/>
<ellipse cx="1613" cy="705" rx="48" ry="22" fill="rgb(204,107,0)" transform="rotate(-22 1613 705)"/>
<ellipse cx="1796" cy="630" rx="50" ry="20" fill="rgb(173,82,0)"/>
<ellipse cx="1540" cy="712" rx="35" ry="30" fill="rgb(173,76,0)"/>
<ellipse cx="1700" cy="650" rx="80" ry="50" fill="rgb(163,69,0)"/>
</g>
<ellipse cx="1600" cy="712" rx="10" ry="4" fill="#ff9020" filter="url(#sb_2_5)" transform="rotate(-60 1600 712)"/>
<ellipse cx="1615" cy="705" rx="10" ry="4" fill="#ff8020" filter="url(#sb_2_5)" transform="rotate(-60 1615 705)"/>
<ellipse cx="1630" cy="698" rx="10" ry="4" fill="#ffa020" filter="url(#sb_2_5)" transform="rotate(-60 1630 698)"/>
<ellipse cx="1645" cy="692" rx="9" ry="4" fill="#ff9020" filter="url(#sb_2_5)" transform="rotate(-60 1645 692)"/>
<ellipse cx="1585" cy="718" rx="9" ry="4" fill="#ffb020" filter="url(#sb_2_5)" transform="rotate(-60 1585 718)"/>
<path d="M1820.6,539.4 C1822.22,542.63 1829.33,551.37 1830.3,558.8 C1831.27,566.23 1824.8,580.8 1826.4,584 C1828,587.2 1836.02,575.75 1839.9,578 C1843.78,580.25 1846.45,592.67 1849.7,597.5 C1852.95,602.33 1855.2,604.42 1859.4,607 C1863.6,609.58 1871.98,610.05 1874.9,613 C1877.82,615.95 1877.57,621.47 1876.9,624.7 C1876.23,627.93 1873.82,631.43 1870.9,632.4 C1867.98,633.37 1862.28,629.23 1859.4,630.5 C1856.52,631.77 1855.85,636.42 1853.6,640 C1851.35,643.58 1849.52,651 1845.9,652 C1842.28,653 1835.47,646 1831.9,646 C1828.33,646 1824.45,649.08 1824.5,652 C1824.55,654.92 1828.97,660.33 1832.2,663.5 C1835.43,666.67 1840.98,667.45 1843.9,671 C1846.82,674.55 1849.7,680.88 1849.7,684.8 C1849.7,688.72 1843.9,690.3 1843.9,694.5 C1843.9,698.7 1849.7,705.15 1849.7,710 C1849.7,714.85 1843.9,718.1 1843.9,723.6 C1843.9,729.1 1848.08,736.55 1849.7,743 C1851.32,749.45 1852.95,759.08 1853.6,762.3" fill="none" stroke="#dcdcdc" stroke-width="1.6" stroke-opacity="0.9" stroke-linejoin="round"/>
</g>
<path d="M1450.8,625.4 C1454.92,630.08 1469.18,643.87 1475.5,653.5 C1481.82,663.13 1483.73,673.28 1488.7,683.2 C1493.67,693.12 1498.8,703.53 1505.3,713 C1511.8,722.47 1523.97,735.5 1527.7,740" fill="none" stroke="#000" stroke-width="2.2" stroke-linecap="round"/>
<ellipse cx="1611" cy="704" rx="51" ry="26" fill="none" stroke="#1a2a9a" stroke-width="1.6" transform="rotate(-22 1611 704)"/>
<circle cx="1506.9" cy="662.4" r="3" fill="#e01818" stroke="#7a0000" stroke-width="0.8"/>
<circle cx="1510.2" cy="662.4" r="3" fill="#e01818" stroke="#7a0000" stroke-width="0.8"/>
<text x="1444.2" y="676" font-family='"Liberation Serif", "Times New Roman", serif' font-size="21" textLength="55.06" lengthAdjust="spacingAndGlyphs" fill="#0a0a0a">Ms4.0</text>
<text x="1516.8" y="671.7" font-family='"Liberation Serif", "Times New Roman", serif' font-size="21" textLength="54.46" lengthAdjust="spacingAndGlyphs" fill="#0a0a0a">Ms4.3</text>
<rect x="1609.3" y="510.8" width="379.9" height="28.7" fill="#fff" stroke="#333" stroke-width="1.5"/>
<text x="1614.2" y="533.7" font-family='"Liberation Serif", "Times New Roman", serif' font-size="25" textLength="370.44" lengthAdjust="spacingAndGlyphs" fill="#000">(f) GACOS-Corrected Interferogram</text>
<rect x="1624.6" y="813.5" width="365.2" height="38.5" fill="#fff" stroke="#333" stroke-width="1.5"/>
<path d="M1628.3,830.7 C1637.18,827.3 1647.24,826.3 1657.9,829.5 S1673.29,836 1687.5,835.5" fill="none" stroke="#111" stroke-width="2.4" stroke-linecap="round"/>
<text x="1691.2" y="840.05" font-family='"Liberation Serif", "Times New Roman", serif' font-size="23.5" textLength="49.92" lengthAdjust="spacingAndGlyphs" fill="#000">Fault</text>
<circle cx="1756.5" cy="833.55" r="9" fill="#e81010" stroke="#6a0000" stroke-width="0.8"/>
<text x="1772.6" y="840.05" font-family='"Liberation Serif", "Times New Roman", serif' font-size="23.5" textLength="91.12" lengthAdjust="spacingAndGlyphs" fill="#000">Epicenter</text>
<ellipse cx="1899.2" cy="832.75" rx="26.8" ry="16.3" fill="none" stroke="#1a1ae0" stroke-width="2.2"/>
<text x="1930.6" y="840.05" font-family='"Liberation Serif", "Times New Roman", serif' font-size="23.5" textLength="50.9" lengthAdjust="spacingAndGlyphs" fill="#000">Error</text>
<rect x="1369.8" y="517" width="26.5" height="53.2" fill="#fff" stroke="#222" stroke-width="1.3"/>
<text x="1383.45" y="528" font-family='"Liberation Serif", "Times New Roman", serif' font-size="12.5" font-weight="bold" text-anchor="middle" fill="#000">N</text>
<polygon points="1383.45,533.49 1395.37,568.34 1383.45,561.16 1371.65,567.27" fill="#000"/>
</g>
<rect x="1360.8" y="497.6" width="643.4" height="366.4" fill="none" stroke="#555" stroke-width="1"/>
<rect x="1363.7" y="905.8" width="596.3" height="26.1" fill="url(#cbg_f)"/>
<rect x="1363.7" y="905.8" width="596.3" height="26.1" fill="url(#cbshade)"/>
<rect x="1365.1" y="907.2" width="593.5" height="23.3" fill="none" stroke="#000" stroke-width="2.8"/>
<text x="1364.4" y="958.5" font-family='"Liberation Sans", Arial, sans-serif' font-size="23.7" textLength="12.23" lengthAdjust="spacingAndGlyphs" fill="#000">5</text>
<text x="1523" y="958.5" font-family='"Liberation Sans", Arial, sans-serif' font-size="23.7" textLength="12.03" lengthAdjust="spacingAndGlyphs" fill="#000">1</text>
<text x="1665" y="958.5" font-family='"Liberation Sans", Arial, sans-serif' font-size="23.7" textLength="13.03" lengthAdjust="spacingAndGlyphs" fill="#000">0</text>
<text x="1789.5" y="958.5" font-family='"Liberation Sans", Arial, sans-serif' font-size="23.7" textLength="21.98" lengthAdjust="spacingAndGlyphs" fill="#000">-1</text>
<text x="1916.7" y="958.5" font-family='"Liberation Sans", Arial, sans-serif' font-size="23.7" textLength="20.98" lengthAdjust="spacingAndGlyphs" fill="#000">-4</text>
<text x="1964.8" y="928.15" font-family='"Liberation Sans", Arial, sans-serif' font-size="27" textLength="36.65" lengthAdjust="spacingAndGlyphs" fill="#000">cm</text>
<text x="1434.3" y="893.5" font-family='"Liberation Sans", Arial, sans-serif' font-size="22.4" textLength="111.9" lengthAdjust="spacingAndGlyphs" fill="#000">104°30'0&quot;E</text>
<text x="1658.2" y="893.5" font-family='"Liberation Sans", Arial, sans-serif' font-size="22.4" textLength="111.9" lengthAdjust="spacingAndGlyphs" fill="#000">104°50'0&quot;E</text>
<text x="1882" y="893.5" font-family='"Liberation Sans", Arial, sans-serif' font-size="22.4" textLength="112" lengthAdjust="spacingAndGlyphs" fill="#000">105°10'0&quot;E</text>
<!-- panel g -->
<rect x="36" y="968.6" width="652.2" height="372.2" fill="#fff"/>
<g clip-path="url(#fc_g_T)" fill="#000"><rect x="36" y="968.6" width="70" height="5.6"/><rect x="171" y="968.6" width="65" height="5.6"/><rect x="301" y="968.6" width="65" height="5.6"/><rect x="431" y="968.6" width="65" height="5.6"/><rect x="561" y="968.6" width="65" height="5.6"/></g>
<g clip-path="url(#fc_g_B)" fill="#000"><rect x="36" y="1335.2" width="70" height="5.6"/><rect x="171" y="1335.2" width="65" height="5.6"/><rect x="301" y="1335.2" width="65" height="5.6"/><rect x="431" y="1335.2" width="65" height="5.6"/><rect x="561" y="1335.2" width="65" height="5.6"/></g>
<g clip-path="url(#fc_g_L)" fill="#000"><rect x="36" y="968.6" width="5.6" height="44.5"/><rect x="36" y="1078.1" width="5.6" height="65"/><rect x="36" y="1208.1" width="5.6" height="65"/><rect x="36" y="1338.1" width="5.6" height="2.7"/></g>
<g clip-path="url(#fc_g_R)" fill="#000"><rect x="682.6" y="968.6" width="5.6" height="44.5"/><rect x="682.6" y="1078.1" width="5.6" height="65"/><rect x="682.6" y="1208.1" width="5.6" height="65"/><rect x="682.6" y="1338.1" width="5.6" height="2.7"/></g>
<rect x="36.45" y="969.05" width="651.3" height="371.3" fill="none" stroke="#9a9a9a" stroke-width="0.9"/>
<path d="M688.2,968.6 L682.6,974.2 M36,1340.8 L41.6,1335.2 M688.2,1340.8 L682.6,1335.2" stroke="#808080" stroke-width="0.8"/>
<g clip-path="url(#mc_g)">
<g transform="translate(362.1 1154.7) rotate(-35)"><rect x="-420" y="-420" width="840" height="840" fill="#ccc" filter="url(#hs)"/></g>
<g mask="url(#mk_g)"><g transform="translate(362.1 1154.7) rotate(-35)"><rect x="-420" y="-420" width="840" height="840" fill="#ccc" filter="url(#hsm)"/></g></g>
<g clip-path="url(#pc_g)"><g filter="url(#df_g)">
<rect x="19.8" y="991.5" width="684.4" height="360.6" fill="rgb(140,51,0)"/>
<ellipse cx="95" cy="1120" rx="50" ry="30" fill="rgb(76,56,0)"/>
<ellipse cx="80" cy="1099" rx="20" ry="12" fill="rgb(66,56,0)"/>
<ellipse cx="200" cy="1095" rx="60" ry="30" fill="rgb(120,56,0)"/>
<ellipse cx="230" cy="1075" rx="28" ry="12" fill="rgb(51,56,0)"/>
<ellipse cx="370" cy="1050" rx="45" ry="14" fill="rgb(204,56,0)"/>
<ellipse cx="105" cy="1165" rx="40" ry="22" fill="rgb(173,56,0)"/>
<ellipse cx="84" cy="1170" rx="10" ry="10" fill="rgb(219,56,0)"/>
<ellipse cx="163" cy="1190" rx="8" ry="14" fill="rgb(224,56,0)"/>
<ellipse cx="150" cy="1255" rx="75" ry="60" fill="rgb(87,51,0)"/>
<ellipse cx="129" cy="1276" rx="14" ry="12" fill="rgb(61,51,0)"/>
<ellipse cx="146" cy="1243" rx="12" ry="10" fill="rgb(61,51,0)"/>
<ellipse cx="135" cy="1305" rx="45" ry="15" fill="rgb(128,51,0)"/>
<ellipse cx="215" cy="1170" rx="40" ry="40" fill="rgb(140,51,0)"/>
<ellipse cx="320" cy="1170" rx="105" ry="105" fill="rgb(194,51,0)"/>
<ellipse cx="325" cy="1160" rx="50" ry="70" fill="rgb(219,51,0)"/>
<ellipse cx="330" cy="1150" rx="25" ry="35" fill="rgb(235,51,0)"/>
<ellipse cx="400" cy="1055" rx="45" ry="25" fill="rgb(194,51,0)"/>
<ellipse cx="450" cy="1095" rx="40" ry="30" fill="rgb(140,51,0)"/>
<ellipse cx="447" cy="1088" rx="14" ry="10" fill="rgb(107,51,0)"/>
<ellipse cx="475" cy="1140" rx="35" ry="20" fill="rgb(194,51,0)"/>
<ellipse cx="490" cy="1134" rx="10" ry="8" fill="rgb(219,51,0)"/>
<ellipse cx="465" cy="1180" rx="50" ry="20" fill="rgb(140,51,0)"/>
<ellipse cx="475" cy="1228" rx="45" ry="20" fill="rgb(191,51,0)"/>
<ellipse cx="270" cy="1265" rx="90" ry="25" fill="rgb(166,51,0)" transform="rotate(-8 270 1265)"/>
<ellipse cx="580" cy="1075" rx="55" ry="50" fill="rgb(102,51,0)"/>
<ellipse cx="625" cy="1066" rx="12" ry="10" fill="rgb(64,51,0)"/>
<ellipse cx="570" cy="1163" rx="28" ry="22" fill="rgb(184,51,0)"/>
<ellipse cx="575" cy="1212" rx="45" ry="25" fill="rgb(97,51,0)"/>
<ellipse cx="645" cy="1175" rx="25" ry="45" fill="rgb(143,51,0)"/>
<ellipse cx="563" cy="1083" rx="18" ry="12" fill="rgb(173,51,0)"/>
</g>
<ellipse cx="162" cy="1188" rx="5" ry="11" fill="#ff8a10" filter="url(#sb_3)" transform="rotate(-5 162 1188)"/>
<path d="M476,1023.6 C477.63,1025.22 481.3,1029.1 485.8,1033.3 C490.3,1037.5 500.8,1041.68 503,1048.8 C505.2,1055.92 498,1072.47 499,1076 C500,1079.53 504.75,1067.42 509,1070 C513.25,1072.58 520,1087 524.5,1091.5 C529,1096 532.42,1095.42 536,1097 C539.58,1098.58 544,1098.67 546,1101 C548,1103.33 546.4,1108.07 548,1111 C549.6,1113.93 552.77,1116.1 555.6,1118.6 C558.43,1121.1 563.77,1122.77 565,1126 C566.23,1129.23 564.9,1134.67 563,1138 C561.1,1141.33 556.1,1146.67 553.6,1146 C551.1,1145.33 550.93,1137.67 548,1134 C545.07,1130.33 539,1124.67 536,1124 C533,1123.33 532.55,1127.67 530,1130 C527.45,1132.33 521.28,1134.73 520.7,1138 C520.12,1141.27 525.87,1145.77 526.5,1149.6 C527.13,1153.43 525.8,1157.77 524.5,1161 C523.2,1164.23 518.7,1165.72 518.7,1169 C518.7,1172.28 524.5,1176.53 524.5,1180.7 C524.5,1184.87 521.28,1190.45 518.7,1194 C516.12,1197.55 509.62,1198.73 509,1202 C508.38,1205.27 513.05,1209.43 515,1213.6 C516.95,1217.77 519.12,1223.77 520.7,1227 C522.28,1230.23 523.87,1232 524.5,1233" fill="none" stroke="#dcdcdc" stroke-width="1.6" stroke-opacity="0.9" stroke-linejoin="round"/>
</g>
<path d="M132.4,1115.6 C136.25,1119.18 150.27,1129.67 155.5,1137.1 C160.73,1144.53 161.05,1152.5 163.8,1160.2 C166.55,1167.9 168.42,1176.13 172,1183.3 C175.58,1190.47 179.23,1195.75 185.3,1203.2 C191.37,1210.65 204.55,1223.87 208.4,1228" fill="none" stroke="#000" stroke-width="2.2" stroke-linecap="round"/>
<ellipse cx="162.8" cy="1188.3" rx="18.2" ry="28" fill="none" stroke="#c8302a" stroke-width="1.6"/>
<circle cx="171.4" cy="1171.8" r="3" fill="#e01818" stroke="#7a0000" stroke-width="0.8"/>
<text x="175.4" y="1176.7" font-family='"Liberation Serif", "Times New Roman", serif' font-size="21" textLength="56.06" lengthAdjust="spacingAndGlyphs" fill="#0a0a0a">Ms4.4</text>
<rect x="393.4" y="988.4" width="274.2" height="31.4" fill="#fff" stroke="#333" stroke-width="1.5"/>
<text x="398.3" y="1011.3" font-family='"Liberation Serif", "Times New Roman", serif' font-size="25" textLength="264.72" lengthAdjust="spacingAndGlyphs" fill="#000">(g) Original Interferogram</text>
<rect x="216.7" y="1282.5" width="452.5" height="37.9" fill="#fff" stroke="#333" stroke-width="1.5"/>
<path d="M220.9,1299.2 C229.57,1295.8 239.4,1294.8 249.8,1298 S264.83,1304.5 278.7,1304" fill="none" stroke="#111" stroke-width="2.4" stroke-linecap="round"/>
<text x="289.9" y="1308.75" font-family='"Liberation Serif", "Times New Roman", serif' font-size="23.5" textLength="48.01" lengthAdjust="spacingAndGlyphs" fill="#000">Fault</text>
<circle cx="361.7" cy="1302.25" r="8.8" fill="#e81010" stroke="#6a0000" stroke-width="0.8"/>
<text x="380.8" y="1308.75" font-family='"Liberation Serif", "Times New Roman", serif' font-size="23.5" textLength="89.22" lengthAdjust="spacingAndGlyphs" fill="#000">Epicenter</text>
<ellipse cx="507.1" cy="1301.45" rx="26.5" ry="16.6" fill="none" stroke="#e02020" stroke-width="2.2"/>
<text x="541.2" y="1308.75" font-family='"Liberation Serif", "Times New Roman", serif' font-size="23.5" textLength="131.95" lengthAdjust="spacingAndGlyphs" fill="#000">Displacement</text>
<rect x="63" y="995" width="26.5" height="54.5" fill="#fff" stroke="#222" stroke-width="1.3"/>
<text x="76.65" y="1006" font-family='"Liberation Serif", "Times New Roman", serif' font-size="12.5" font-weight="bold" text-anchor="middle" fill="#000">N</text>
<polygon points="76.65,1011.89 88.57,1047.59 76.65,1040.23 64.86,1046.5" fill="#000"/>
</g>
<rect x="41.6" y="974.2" width="641" height="361" fill="none" stroke="#555" stroke-width="1"/>
<rect x="40.7" y="1378.2" width="603.1" height="26.6" fill="url(#cbg_g)"/>
<rect x="40.7" y="1378.2" width="603.1" height="26.6" fill="url(#cbshade)"/>
<rect x="42.1" y="1379.6" width="600.3" height="23.8" fill="none" stroke="#000" stroke-width="2.8"/>
<text x="41.4" y="1432" font-family='"Liberation Sans", Arial, sans-serif' font-size="23.7" textLength="12.13" lengthAdjust="spacingAndGlyphs" fill="#000">3</text>
<text x="201.2" y="1432" font-family='"Liberation Sans", Arial, sans-serif' font-size="23.7" textLength="34.2" lengthAdjust="spacingAndGlyphs" fill="#000">0.5</text>
<text x="345.2" y="1432" font-family='"Liberation Sans", Arial, sans-serif' font-size="23.7" textLength="13.13" lengthAdjust="spacingAndGlyphs" fill="#000">0</text>
<text x="472.2" y="1432" font-family='"Liberation Sans", Arial, sans-serif' font-size="23.7" textLength="42.76" lengthAdjust="spacingAndGlyphs" fill="#000">-0.5</text>
<text x="600.6" y="1432" font-family='"Liberation Sans", Arial, sans-serif' font-size="23.7" textLength="43.15" lengthAdjust="spacingAndGlyphs" fill="#000">-2.5</text>
<text x="649.6" y="1400.8" font-family='"Liberation Sans", Arial, sans-serif' font-size="27" textLength="36.55" lengthAdjust="spacingAndGlyphs" fill="#000">cm</text>
<text x="116.7" y="1365" font-family='"Liberation Sans", Arial, sans-serif' font-size="22.4" textLength="109.4" lengthAdjust="spacingAndGlyphs" fill="#000">104°30'0&quot;E</text>
<text x="337.6" y="1365" font-family='"Liberation Sans", Arial, sans-serif' font-size="22.4" textLength="109.4" lengthAdjust="spacingAndGlyphs" fill="#000">104°50'0&quot;E</text>
<text x="557.5" y="1365" font-family='"Liberation Sans", Arial, sans-serif' font-size="22.4" textLength="110.5" lengthAdjust="spacingAndGlyphs" fill="#000">105°10'0&quot;E</text>
<text transform="translate(29 1097.9) rotate(-90)" x="-0" y="0" font-family='"Liberation Sans", Arial, sans-serif' font-size="22.4" textLength="97.38" lengthAdjust="spacingAndGlyphs" fill="#000">29°40'0&quot;N</text>
<text transform="translate(29 1319) rotate(-90)" x="-0" y="0" font-family='"Liberation Sans", Arial, sans-serif' font-size="22.4" textLength="98.68" lengthAdjust="spacingAndGlyphs" fill="#000">29°20'0&quot;N</text>
<!-- panel h -->
<rect x="692.8" y="968.6" width="655.5" height="372.2" fill="#fff"/>
<g clip-path="url(#fc_h_T)" fill="#000"><rect x="692.8" y="968.6" width="70" height="5.6"/><rect x="827.8" y="968.6" width="65" height="5.6"/><rect x="957.8" y="968.6" width="65" height="5.6"/><rect x="1087.8" y="968.6" width="65" height="5.6"/><rect x="1217.8" y="968.6" width="65" height="5.6"/><rect x="1347.8" y="968.6" width="0.5" height="5.6"/></g>
<g clip-path="url(#fc_h_B)" fill="#000"><rect x="692.8" y="1335.2" width="70" height="5.6"/><rect x="827.8" y="1335.2" width="65" height="5.6"/><rect x="957.8" y="1335.2" width="65" height="5.6"/><rect x="1087.8" y="1335.2" width="65" height="5.6"/><rect x="1217.8" y="1335.2" width="65" height="5.6"/><rect x="1347.8" y="1335.2" width="0.5" height="5.6"/></g>
<g clip-path="url(#fc_h_L)" fill="#000"><rect x="692.8" y="968.6" width="5.6" height="44.5"/><rect x="692.8" y="1078.1" width="5.6" height="65"/><rect x="692.8" y="1208.1" width="5.6" height="65"/><rect x="692.8" y="1338.1" width="5.6" height="2.7"/></g>
<g clip-path="url(#fc_h_R)" fill="#000"><rect x="1342.7" y="968.6" width="5.6" height="44.5"/><rect x="1342.7" y="1078.1" width="5.6" height="65"/><rect x="1342.7" y="1208.1" width="5.6" height="65"/><rect x="1342.7" y="1338.1" width="5.6" height="2.7"/></g>
<rect x="693.25" y="969.05" width="654.6" height="371.3" fill="none" stroke="#9a9a9a" stroke-width="0.9"/>
<path d="M1348.3,968.6 L1342.7,974.2 M692.8,1340.8 L698.4,1335.2 M1348.3,1340.8 L1342.7,1335.2" stroke="#808080" stroke-width="0.8"/>
<g clip-path="url(#mc_h)">
<g transform="translate(1020.55 1154.7) rotate(-35)"><rect x="-420" y="-420" width="840" height="840" fill="#ccc" filter="url(#hs)"/></g>
<g mask="url(#mk_h)"><g transform="translate(1020.55 1154.7) rotate(-35)"><rect x="-420" y="-420" width="840" height="840" fill="#ccc" filter="url(#hsm)"/></g></g>
<g clip-path="url(#pc_h)"><g filter="url(#df_h)">
<rect x="677.8" y="991.5" width="686.1" height="360.6" fill="rgb(98,46,0)"/>
<ellipse cx="745" cy="1112" rx="30" ry="18" fill="rgb(26,107,76)"/>
<ellipse cx="740" cy="1130" rx="25" ry="15" fill="rgb(31,107,0)"/>
<ellipse cx="760" cy="1160" rx="30" ry="15" fill="rgb(115,56,0)"/>
<ellipse cx="894" cy="1075" rx="10" ry="12" fill="rgb(0,69,0)"/>
<ellipse cx="800" cy="1250" rx="35" ry="30" fill="rgb(41,51,0)"/>
<ellipse cx="790" cy="1270" rx="12" ry="10" fill="rgb(26,51,0)"/>
<ellipse cx="985" cy="1165" rx="65" ry="90" fill="rgb(120,46,0)"/>
<ellipse cx="993" cy="1148" rx="18" ry="18" fill="rgb(148,46,0)"/>
<ellipse cx="1040" cy="1120" rx="25" ry="80" fill="rgb(133,46,0)"/>
<ellipse cx="1141" cy="1136" rx="25" ry="14" fill="rgb(133,46,0)"/>
<ellipse cx="1127" cy="1224" rx="30" ry="12" fill="rgb(133,46,0)"/>
<ellipse cx="1035" cy="1258" rx="18" ry="12" fill="rgb(128,46,0)"/>
<ellipse cx="1248" cy="1035" rx="25" ry="14" fill="rgb(38,46,0)"/>
<ellipse cx="1280" cy="1080" rx="25" ry="30" fill="rgb(13,46,0)"/>
<ellipse cx="1292" cy="1066" rx="10" ry="10" fill="rgb(5,46,0)"/>
<ellipse cx="1285" cy="1125" rx="35" ry="35" fill="rgb(51,46,0)"/>
<ellipse cx="1233" cy="1214" rx="40" ry="16" fill="rgb(31,46,0)"/>
<ellipse cx="1252" cy="1165" rx="20" ry="10" fill="rgb(133,46,0)"/>
</g>
<path d="M1134,1023.6 C1135.63,1025.22 1139.3,1029.1 1143.8,1033.3 C1148.3,1037.5 1158.8,1041.68 1161,1048.8 C1163.2,1055.92 1156,1072.47 1157,1076 C1158,1079.53 1162.75,1067.42 1167,1070 C1171.25,1072.58 1178,1087 1182.5,1091.5 C1187,1096 1190.42,1095.42 1194,1097 C1197.58,1098.58 1202,1098.67 1204,1101 C1206,1103.33 1204.4,1108.07 1206,1111 C1207.6,1113.93 1210.77,1116.1 1213.6,1118.6 C1216.43,1121.1 1221.77,1122.77 1223,1126 C1224.23,1129.23 1222.9,1134.67 1221,1138 C1219.1,1141.33 1214.1,1146.67 1211.6,1146 C1209.1,1145.33 1208.93,1137.67 1206,1134 C1203.07,1130.33 1197,1124.67 1194,1124 C1191,1123.33 1190.55,1127.67 1188,1130 C1185.45,1132.33 1179.28,1134.73 1178.7,1138 C1178.12,1141.27 1183.87,1145.77 1184.5,1149.6 C1185.13,1153.43 1183.8,1157.77 1182.5,1161 C1181.2,1164.23 1176.7,1165.72 1176.7,1169 C1176.7,1172.28 1182.5,1176.53 1182.5,1180.7 C1182.5,1184.87 1179.28,1190.45 1176.7,1194 C1174.12,1197.55 1167.62,1198.73 1167,1202 C1166.38,1205.27 1171.05,1209.43 1173,1213.6 C1174.95,1217.77 1177.12,1223.77 1178.7,1227 C1180.28,1230.23 1181.87,1232 1182.5,1233" fill="none" stroke="#dcdcdc" stroke-width="1.6" stroke-opacity="0.9" stroke-linejoin="round"/>
</g>
<path d="M790.4,1115.6 C794.25,1119.18 808.27,1129.67 813.5,1137.1 C818.73,1144.53 819.05,1152.5 821.8,1160.2 C824.55,1167.9 826.42,1176.13 830,1183.3 C833.58,1190.47 837.13,1195.58 843.3,1203.2 C849.47,1210.82 863.05,1224.7 867,1229" fill="none" stroke="#000" stroke-width="2.2" stroke-linecap="round"/>
<circle cx="829.4" cy="1171.8" r="3" fill="#e01818" stroke="#7a0000" stroke-width="0.8"/>
<text x="836.7" y="1176.7" font-family='"Liberation Serif", "Times New Roman", serif' font-size="21" textLength="54.46" lengthAdjust="spacingAndGlyphs" fill="#0a0a0a">Ms4.4</text>
<rect x="1121.4" y="989.1" width="207.5" height="29.7" fill="#fff" stroke="#333" stroke-width="1.5"/>
<text x="1126.3" y="1012" font-family='"Liberation Serif", "Times New Roman", serif' font-size="25" textLength="198.04" lengthAdjust="spacingAndGlyphs" fill="#000">(h) ZTD Difference</text>
<rect x="1060.6" y="1282.5" width="262.4" height="37.9" fill="#fff" stroke="#333" stroke-width="1.5"/>
<path d="M1065.1,1299.2 C1073.72,1295.8 1083.5,1294.8 1093.85,1298 S1108.8,1304.5 1122.6,1304" fill="none" stroke="#111" stroke-width="2.4" stroke-linecap="round"/>
<text x="1134.6" y="1308.75" font-family='"Liberation Serif", "Times New Roman", serif' font-size="23.5" textLength="47.21" lengthAdjust="spacingAndGlyphs" fill="#000">Fault</text>
<circle cx="1206.1" cy="1302.25" r="8.8" fill="#e81010" stroke="#6a0000" stroke-width="0.8"/>
<text x="1225" y="1308.75" font-family='"Liberation Serif", "Times New Roman", serif' font-size="23.5" textLength="89.92" lengthAdjust="spacingAndGlyphs" fill="#000">Epicenter</text>
<rect x="720.4" y="994" width="26.4" height="54.6" fill="#fff" stroke="#222" stroke-width="1.3"/>
<text x="734" y="1005" font-family='"Liberation Serif", "Times New Roman", serif' font-size="12.5" font-weight="bold" text-anchor="middle" fill="#000">N</text>
<polygon points="734,1010.93 745.88,1046.69 734,1039.32 722.25,1045.6" fill="#000"/>
</g>
<rect x="698.4" y="974.2" width="644.3" height="361" fill="none" stroke="#555" stroke-width="1"/>
<rect x="704.2" y="1377.1" width="595.4" height="25.9" fill="url(#cbg_h)"/>
<rect x="704.2" y="1377.1" width="595.4" height="25.9" fill="url(#cbshade)"/>
<rect x="705.6" y="1378.5" width="592.6" height="23.1" fill="none" stroke="#000" stroke-width="2.8"/>
<text x="705.9" y="1432" font-family='"Liberation Sans", Arial, sans-serif' font-size="23.7" textLength="11.42" lengthAdjust="spacingAndGlyphs" fill="#000">1</text>
<text x="882" y="1432" font-family='"Liberation Sans", Arial, sans-serif' font-size="23.7" textLength="12.73" lengthAdjust="spacingAndGlyphs" fill="#000">0</text>
<text x="1278.9" y="1432" font-family='"Liberation Sans", Arial, sans-serif' font-size="23.7" textLength="20.68" lengthAdjust="spacingAndGlyphs" fill="#000">-3</text>
<text x="1312.4" y="1399.35" font-family='"Liberation Sans", Arial, sans-serif' font-size="27" textLength="37.25" lengthAdjust="spacingAndGlyphs" fill="#000">cm</text>
<text x="773.9" y="1365" font-family='"Liberation Sans", Arial, sans-serif' font-size="22.4" textLength="111.5" lengthAdjust="spacingAndGlyphs" fill="#000">104°30'0&quot;E</text>
<text x="995.8" y="1365" font-family='"Liberation Sans", Arial, sans-serif' font-size="22.4" textLength="112.2" lengthAdjust="spacingAndGlyphs" fill="#000">104°50'0&quot;E</text>
<text x="1218.5" y="1365" font-family='"Liberation Sans", Arial, sans-serif' font-size="22.4" textLength="110.5" lengthAdjust="spacingAndGlyphs" fill="#000">105°10'0&quot;E</text>
<!-- panel i -->
<rect x="1355.2" y="968.6" width="654.6" height="372.2" fill="#fff"/>
<g clip-path="url(#fc_i_T)" fill="#000"><rect x="1355.2" y="968.6" width="70" height="5.6"/><rect x="1490.2" y="968.6" width="65" height="5.6"/><rect x="1620.2" y="968.6" width="65" height="5.6"/><rect x="1750.2" y="968.6" width="65" height="5.6"/><rect x="1880.2" y="968.6" width="65" height="5.6"/></g>
<g clip-path="url(#fc_i_B)" fill="#000"><rect x="1355.2" y="1335.2" width="70" height="5.6"/><rect x="1490.2" y="1335.2" width="65" height="5.6"/><rect x="1620.2" y="1335.2" width="65" height="5.6"/><rect x="1750.2" y="1335.2" width="65" height="5.6"/><rect x="1880.2" y="1335.2" width="65" height="5.6"/></g>
<g clip-path="url(#fc_i_L)" fill="#000"><rect x="1355.2" y="968.6" width="5.6" height="44.5"/><rect x="1355.2" y="1078.1" width="5.6" height="65"/><rect x="1355.2" y="1208.1" width="5.6" height="65"/><rect x="1355.2" y="1338.1" width="5.6" height="2.7"/></g>
<g clip-path="url(#fc_i_R)" fill="#000"><rect x="2004.2" y="968.6" width="5.6" height="44.5"/><rect x="2004.2" y="1078.1" width="5.6" height="65"/><rect x="2004.2" y="1208.1" width="5.6" height="65"/><rect x="2004.2" y="1338.1" width="5.6" height="2.7"/></g>
<rect x="1355.65" y="969.05" width="653.7" height="371.3" fill="none" stroke="#9a9a9a" stroke-width="0.9"/>
<path d="M2009.8,968.6 L2004.2,974.2 M1355.2,1340.8 L1360.8,1335.2 M2009.8,1340.8 L2004.2,1335.2" stroke="#808080" stroke-width="0.8"/>
<g clip-path="url(#mc_i)">
<g transform="translate(1682.5 1154.7) rotate(-35)"><rect x="-420" y="-420" width="840" height="840" fill="#ccc" filter="url(#hs)"/></g>
<g mask="url(#mk_i)"><g transform="translate(1682.5 1154.7) rotate(-35)"><rect x="-420" y="-420" width="840" height="840" fill="#ccc" filter="url(#hsm)"/></g></g>
<g clip-path="url(#pc_i)"><g filter="url(#df_i)">
<rect x="1339.8" y="990" width="686.1" height="362.1" fill="rgb(128,46,0)"/>
<ellipse cx="1395" cy="1107" rx="28" ry="14" fill="rgb(115,46,0)"/>
<ellipse cx="1435" cy="1150" rx="55" ry="30" fill="rgb(199,51,0)" transform="rotate(-20 1435 1150)"/>
<ellipse cx="1420" cy="1165" rx="20" ry="12" fill="rgb(219,51,0)"/>
<ellipse cx="1460" cy="1137" rx="25" ry="15" fill="rgb(219,51,0)"/>
<ellipse cx="1482" cy="1190" rx="8" ry="15" fill="rgb(224,46,0)"/>
<ellipse cx="1470" cy="1245" rx="90" ry="45" fill="rgb(102,46,0)"/>
<ellipse cx="1556" cy="1072" rx="18" ry="10" fill="rgb(64,46,0)"/>
<ellipse cx="1593" cy="1069" rx="12" ry="8" fill="rgb(76,46,0)"/>
<ellipse cx="1540" cy="1150" rx="40" ry="30" fill="rgb(143,46,0)"/>
<ellipse cx="1637" cy="1175" rx="65" ry="72" fill="rgb(194,46,0)"/>
<ellipse cx="1643" cy="1175" rx="38" ry="44" fill="rgb(217,46,0)"/>
<ellipse cx="1545" cy="1255" rx="35" ry="20" fill="rgb(158,46,0)"/>
<ellipse cx="1762" cy="1088" rx="55" ry="38" fill="rgb(102,46,0)"/>
<ellipse cx="1790" cy="1040" rx="60" ry="18" fill="rgb(163,46,0)"/>
<ellipse cx="1850" cy="1130" rx="30" ry="40" fill="rgb(163,46,0)"/>
<ellipse cx="1950" cy="1150" rx="30" ry="30" fill="rgb(163,46,0)"/>
<ellipse cx="1700" cy="1140" rx="30" ry="60" fill="rgb(158,46,0)"/>
<ellipse cx="1530" cy="1110" rx="35" ry="25" fill="rgb(158,46,0)"/>
<ellipse cx="1420" cy="1290" rx="30" ry="20" fill="rgb(153,46,0)"/>
<ellipse cx="1762" cy="1205" rx="55" ry="38" fill="rgb(107,46,0)"/>
<ellipse cx="1927" cy="1092" rx="35" ry="35" fill="rgb(107,46,0)"/>
<ellipse cx="1879" cy="1204" rx="35" ry="30" fill="rgb(107,46,0)"/>
<ellipse cx="1813" cy="1141" rx="18" ry="20" fill="rgb(209,46,0)"/>
<ellipse cx="1885" cy="1081" rx="15" ry="10" fill="rgb(194,46,0)"/>
<ellipse cx="1912" cy="1165" rx="40" ry="18" fill="rgb(194,46,0)"/>
<ellipse cx="1805" cy="1228" rx="45" ry="22" fill="rgb(194,46,0)"/>
<ellipse cx="1978" cy="1218" rx="18" ry="14" fill="rgb(199,46,0)"/>
<ellipse cx="1700" cy="1073" rx="20" ry="15" fill="rgb(189,46,0)"/>
</g>
<ellipse cx="1481" cy="1188" rx="5" ry="12" fill="#ff9a10" filter="url(#sb_3)" transform="rotate(-5 1481 1188)"/>
<path d="M1796,1023.6 C1797.63,1025.22 1801.3,1029.1 1805.8,1033.3 C1810.3,1037.5 1820.8,1041.68 1823,1048.8 C1825.2,1055.92 1818,1072.47 1819,1076 C1820,1079.53 1824.75,1067.42 1829,1070 C1833.25,1072.58 1840,1087 1844.5,1091.5 C1849,1096 1852.42,1095.42 1856,1097 C1859.58,1098.58 1864,1098.67 1866,1101 C1868,1103.33 1866.4,1108.07 1868,1111 C1869.6,1113.93 1872.77,1116.1 1875.6,1118.6 C1878.43,1121.1 1883.77,1122.77 1885,1126 C1886.23,1129.23 1884.9,1134.67 1883,1138 C1881.1,1141.33 1876.1,1146.67 1873.6,1146 C1871.1,1145.33 1870.93,1137.67 1868,1134 C1865.07,1130.33 1859,1124.67 1856,1124 C1853,1123.33 1852.55,1127.67 1850,1130 C1847.45,1132.33 1841.28,1134.73 1840.7,1138 C1840.12,1141.27 1845.87,1145.77 1846.5,1149.6 C1847.13,1153.43 1845.8,1157.77 1844.5,1161 C1843.2,1164.23 1838.7,1165.72 1838.7,1169 C1838.7,1172.28 1844.5,1176.53 1844.5,1180.7 C1844.5,1184.87 1841.28,1190.45 1838.7,1194 C1836.12,1197.55 1829.62,1198.73 1829,1202 C1828.38,1205.27 1833.05,1209.43 1835,1213.6 C1836.95,1217.77 1839.12,1223.77 1840.7,1227 C1842.28,1230.23 1843.87,1232 1844.5,1233" fill="none" stroke="#dcdcdc" stroke-width="1.6" stroke-opacity="0.9" stroke-linejoin="round"/>
</g>
<path d="M1452.4,1115.6 C1456.25,1119.18 1470.27,1129.67 1475.5,1137.1 C1480.73,1144.53 1481.05,1152.5 1483.8,1160.2 C1486.55,1167.9 1488.42,1176.13 1492,1183.3 C1495.58,1190.47 1499.13,1195.48 1505.3,1203.2 C1511.47,1210.92 1525.05,1225.2 1529,1229.6" fill="none" stroke="#000" stroke-width="2.2" stroke-linecap="round"/>
<ellipse cx="1480.5" cy="1189" rx="18.2" ry="28" fill="none" stroke="#c8302a" stroke-width="1.6"/>
<ellipse cx="1637.4" cy="1173.4" rx="71" ry="75.6" fill="none" stroke="#1a2a9a" stroke-width="1.6"/>
<ellipse cx="1436.6" cy="1149.6" rx="58.8" ry="33" fill="none" stroke="#1a2a9a" stroke-width="1.6" transform="rotate(-20 1436.6 1149.6)"/>
<circle cx="1491.4" cy="1172.4" r="3" fill="#e01818" stroke="#7a0000" stroke-width="0.8"/>
<text x="1495.4" y="1178.4" font-family='"Liberation Serif", "Times New Roman", serif' font-size="21" textLength="55.06" lengthAdjust="spacingAndGlyphs" fill="#0a0a0a">Ms4.4</text>
<rect x="1611" y="990" width="379.9" height="28.2" fill="#fff" stroke="#333" stroke-width="1.5"/>
<text x="1615.9" y="1012.9" font-family='"Liberation Serif", "Times New Roman", serif' font-size="25" textLength="370.44" lengthAdjust="spacingAndGlyphs" fill="#000">(i) GACOS-Corrected Interferogram</text>
<rect x="1440.2" y="1283" width="556.1" height="38.1" fill="#fff" stroke="#333" stroke-width="1.5"/>
<path d="M1444.3,1299.7 C1453.06,1296.3 1462.99,1295.3 1473.5,1298.5 S1488.68,1305 1502.7,1304.5" fill="none" stroke="#111" stroke-width="2.4" stroke-linecap="round"/>
<text x="1507.7" y="1309.35" font-family='"Liberation Serif", "Times New Roman", serif' font-size="23.5" textLength="48.41" lengthAdjust="spacingAndGlyphs" fill="#000">Fault</text>
<circle cx="1571.7" cy="1302.85" r="9" fill="#e81010" stroke="#6a0000" stroke-width="0.8"/>
<text x="1587.6" y="1309.35" font-family='"Liberation Serif", "Times New Roman", serif' font-size="23.5" textLength="93.12" lengthAdjust="spacingAndGlyphs" fill="#000">Epicenter</text>
<ellipse cx="1712.7" cy="1302.05" rx="26.4" ry="16.7" fill="none" stroke="#e02020" stroke-width="2.2"/>
<text x="1744.7" y="1309.35" font-family='"Liberation Serif", "Times New Roman", serif' font-size="23.5" textLength="133.45" lengthAdjust="spacingAndGlyphs" fill="#000">Displacement</text>
<ellipse cx="1908.7" cy="1302.05" rx="26.4" ry="16.7" fill="none" stroke="#1a1ae0" stroke-width="2.2"/>
<text x="1940.7" y="1309.35" font-family='"Liberation Serif", "Times New Roman", serif' font-size="23.5" textLength="50.9" lengthAdjust="spacingAndGlyphs" fill="#000">Error</text>
<rect x="1382" y="997.7" width="26.5" height="54.2" fill="#fff" stroke="#222" stroke-width="1.3"/>
<text x="1395.65" y="1008.7" font-family='"Liberation Serif", "Times New Roman", serif' font-size="12.5" font-weight="bold" text-anchor="middle" fill="#000">N</text>
<polygon points="1395.65,1014.5 1407.57,1050 1395.65,1042.69 1383.86,1048.92" fill="#000"/>
</g>
<rect x="1360.8" y="974.2" width="643.4" height="361" fill="none" stroke="#555" stroke-width="1"/>
<rect x="1364.4" y="1378.1" width="602.5" height="26.5" fill="url(#cbg_i)"/>
<rect x="1364.4" y="1378.1" width="602.5" height="26.5" fill="url(#cbshade)"/>
<rect x="1365.8" y="1379.5" width="599.7" height="23.7" fill="none" stroke="#000" stroke-width="2.8"/>
<text x="1364.4" y="1432" font-family='"Liberation Sans", Arial, sans-serif' font-size="23.7" textLength="12.23" lengthAdjust="spacingAndGlyphs" fill="#000">3</text>
<text x="1524.9" y="1432" font-family='"Liberation Sans", Arial, sans-serif' font-size="23.7" textLength="33.9" lengthAdjust="spacingAndGlyphs" fill="#000">0.5</text>
<text x="1668.4" y="1432" font-family='"Liberation Sans", Arial, sans-serif' font-size="23.7" textLength="13.63" lengthAdjust="spacingAndGlyphs" fill="#000">0</text>
<text x="1795.2" y="1432" font-family='"Liberation Sans", Arial, sans-serif' font-size="23.7" textLength="42.76" lengthAdjust="spacingAndGlyphs" fill="#000">-0.5</text>
<text x="1923.4" y="1432" font-family='"Liberation Sans", Arial, sans-serif' font-size="23.7" textLength="42.36" lengthAdjust="spacingAndGlyphs" fill="#000">-2.5</text>
<text x="1972.6" y="1400.65" font-family='"Liberation Sans", Arial, sans-serif' font-size="27" textLength="37.35" lengthAdjust="spacingAndGlyphs" fill="#000">cm</text>
<text x="1436" y="1365" font-family='"Liberation Sans", Arial, sans-serif' font-size="22.4" textLength="110.9" lengthAdjust="spacingAndGlyphs" fill="#000">104°30'0&quot;E</text>
<text x="1658.2" y="1365" font-family='"Liberation Sans", Arial, sans-serif' font-size="22.4" textLength="110.9" lengthAdjust="spacingAndGlyphs" fill="#000">104°50'0&quot;E</text>
<text x="1879.4" y="1365" font-family='"Liberation Sans", Arial, sans-serif' font-size="22.4" textLength="111.2" lengthAdjust="spacingAndGlyphs" fill="#000">105°10'0&quot;E</text></svg>
</body></html>
